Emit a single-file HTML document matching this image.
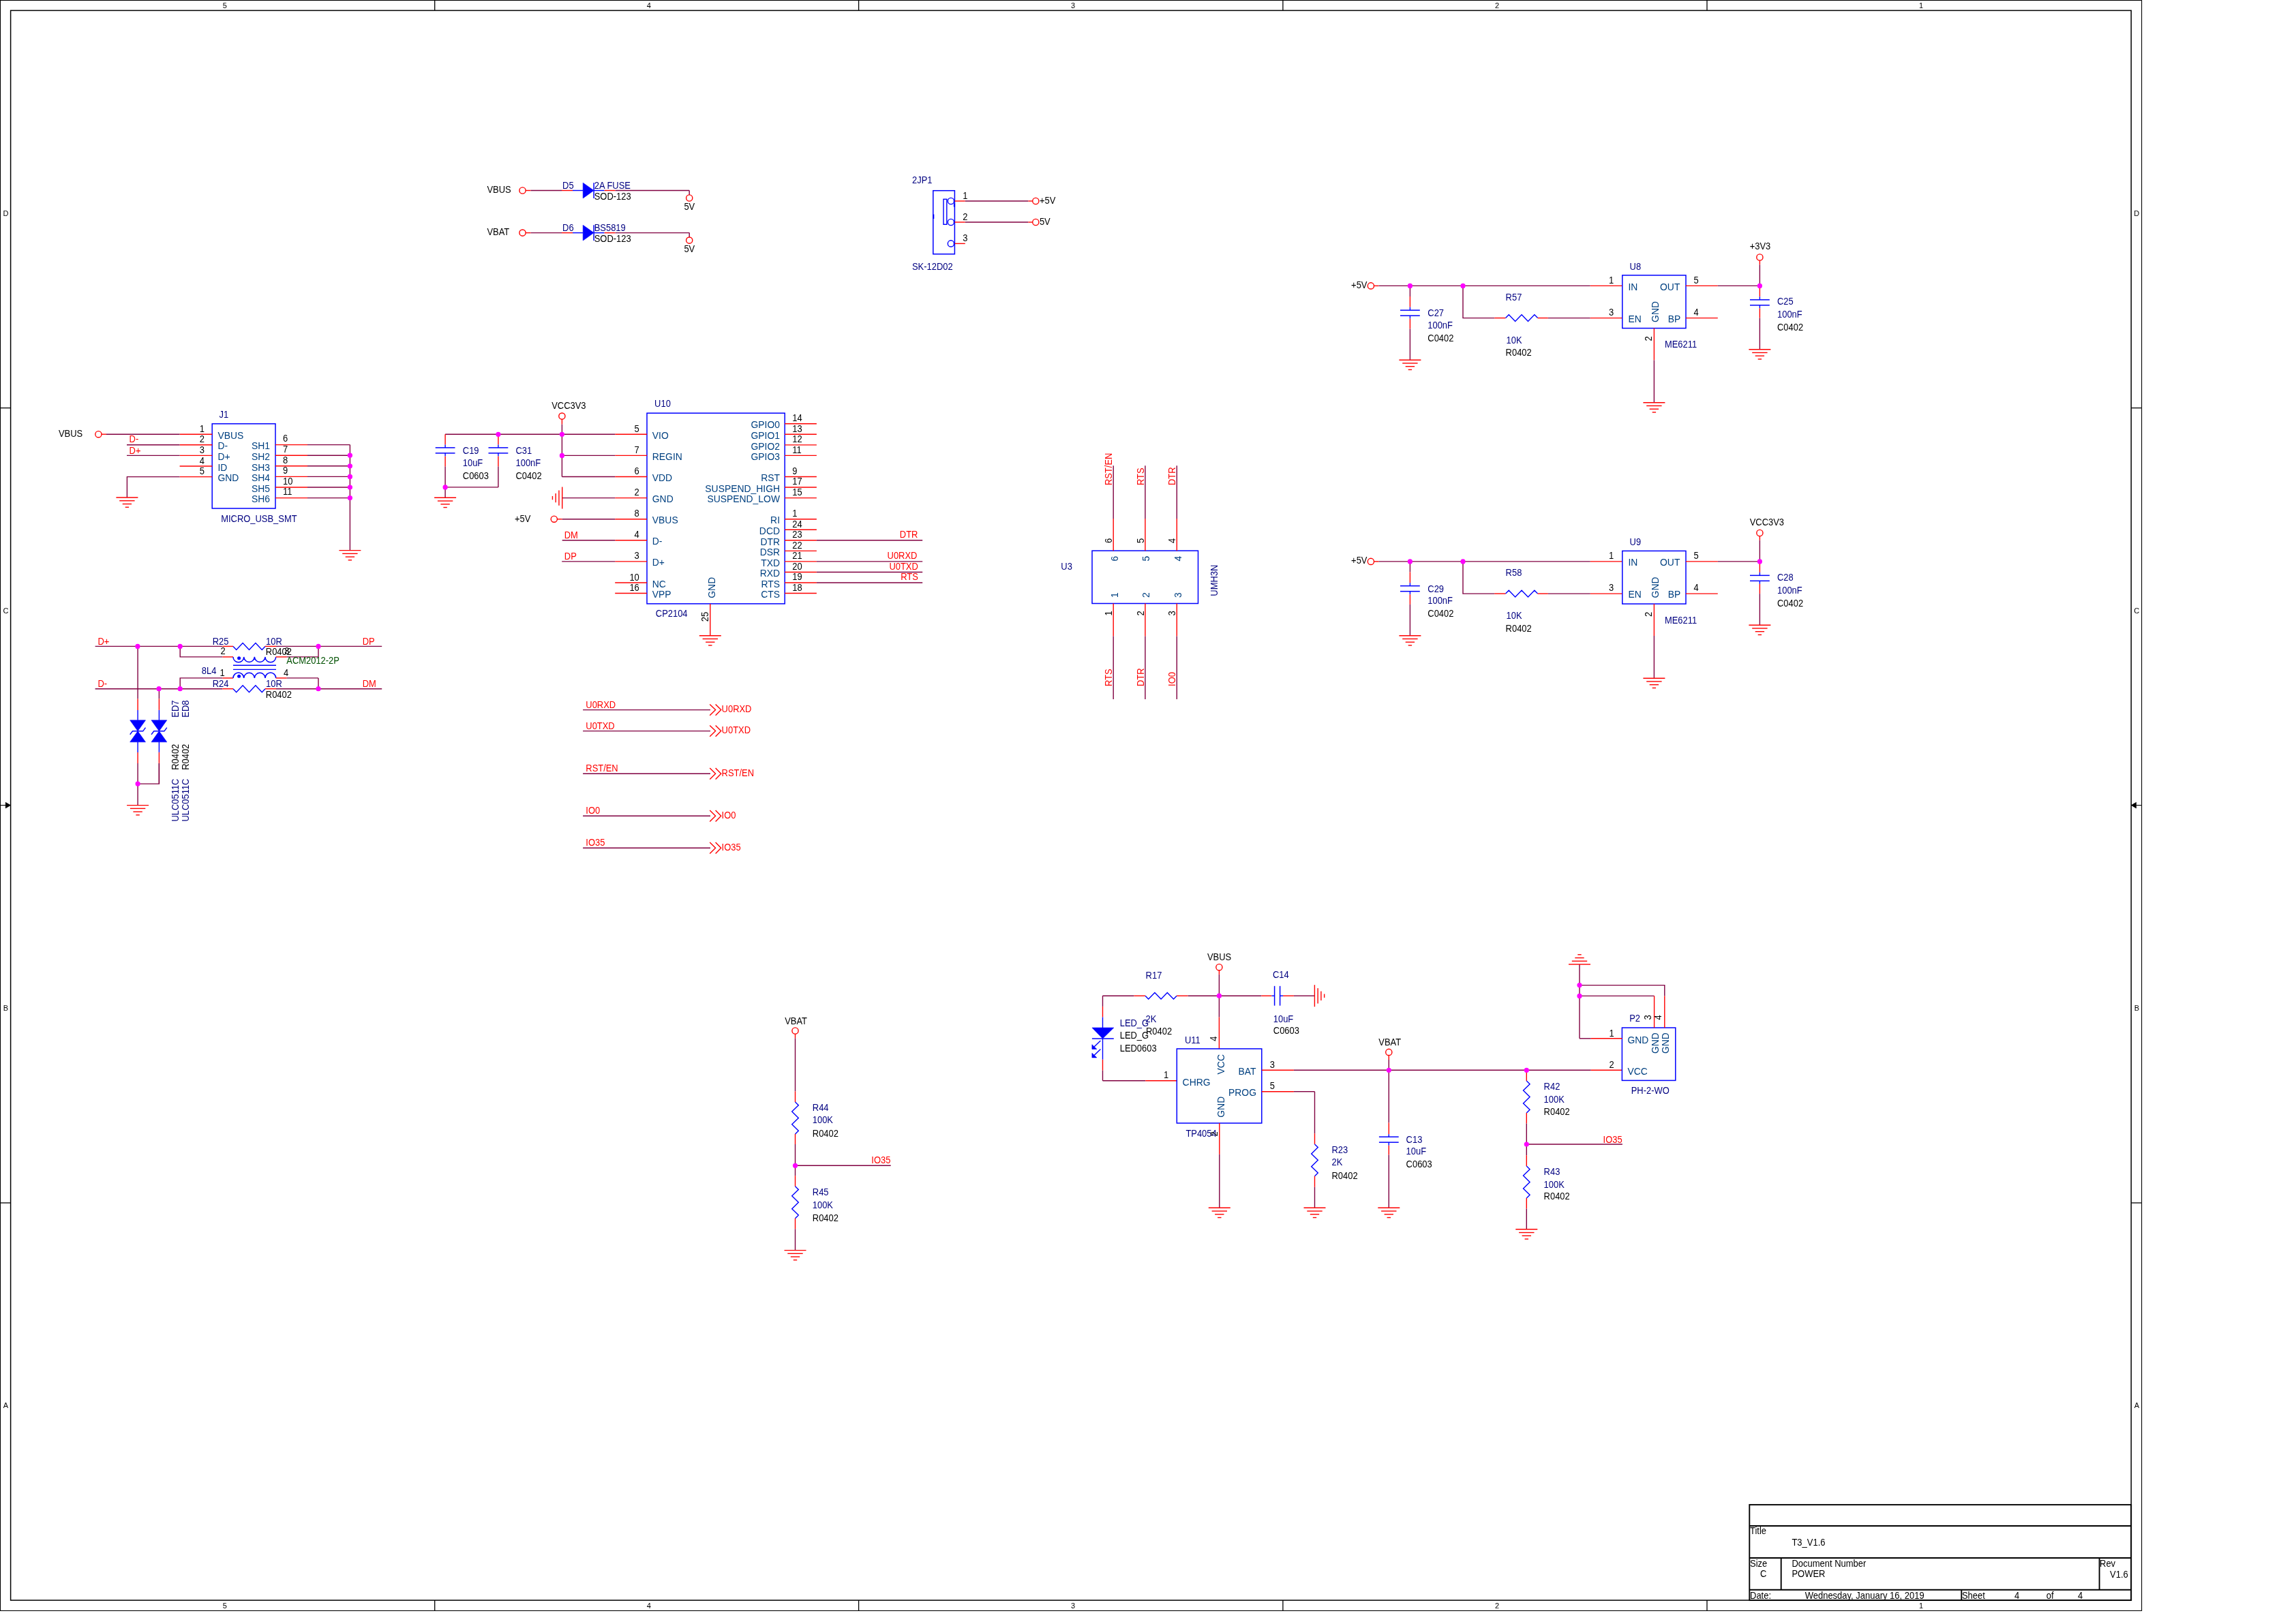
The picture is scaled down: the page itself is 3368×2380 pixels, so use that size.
<!DOCTYPE html>
<html><head><meta charset="utf-8"><title>POWER schematic</title>
<style>
html,body{margin:0;padding:0;background:#fff;width:3368px;height:2380px;overflow:hidden}
svg{display:block;will-change:transform}
text{font-family:"Liberation Sans",sans-serif}
</style></head><body>
<svg width="3368" height="2380" viewBox="0 0 3368 2380">
<rect x="0" y="0" width="3368" height="2380" fill="#fff"/>
<rect x="0.5" y="0.5" width="3141.1" height="2362.9" stroke="#000000" stroke-width="1.1" fill="none"/>
<rect x="15.6" y="15.4" width="3110.6" height="2332.7" stroke="#000000" stroke-width="1.5" fill="none"/>
<line x1="637.7" y1="0.5" x2="637.7" y2="15.4" stroke="#000000" stroke-width="1.3"/>
<line x1="637.7" y1="2348.1" x2="637.7" y2="2363.4" stroke="#000000" stroke-width="1.3"/>
<line x1="1259.6" y1="0.5" x2="1259.6" y2="15.4" stroke="#000000" stroke-width="1.3"/>
<line x1="1259.6" y1="2348.1" x2="1259.6" y2="2363.4" stroke="#000000" stroke-width="1.3"/>
<line x1="1881.9" y1="0.5" x2="1881.9" y2="15.4" stroke="#000000" stroke-width="1.3"/>
<line x1="1881.9" y1="2348.1" x2="1881.9" y2="2363.4" stroke="#000000" stroke-width="1.3"/>
<line x1="2504" y1="0.5" x2="2504" y2="15.4" stroke="#000000" stroke-width="1.3"/>
<line x1="2504" y1="2348.1" x2="2504" y2="2363.4" stroke="#000000" stroke-width="1.3"/>
<line x1="0.5" y1="598.6" x2="15.6" y2="598.6" stroke="#000000" stroke-width="1.3"/>
<line x1="3126.2" y1="598.6" x2="3141.6" y2="598.6" stroke="#000000" stroke-width="1.3"/>
<line x1="0.5" y1="1765" x2="15.6" y2="1765" stroke="#000000" stroke-width="1.3"/>
<line x1="3126.2" y1="1765" x2="3141.6" y2="1765" stroke="#000000" stroke-width="1.3"/>
<line x1="0.5" y1="1181.6" x2="9" y2="1181.6" stroke="#000000" stroke-width="1.1"/>
<polygon points="8.2,1177.3 8.2,1185.9 15.6,1181.6" fill="#000000" stroke="#000000" stroke-width="0.6"/>
<line x1="3133.5" y1="1181.6" x2="3141.6" y2="1181.6" stroke="#000000" stroke-width="1.1"/>
<polygon points="3133.6,1177.3 3133.6,1185.9 3126.2,1181.6" fill="#000000" stroke="#000000" stroke-width="0.6"/>
<text transform="translate(329.75,12.2)" fill="#000000" font-size="11" text-anchor="middle">5</text>
<text transform="translate(329.75,2359.9)" fill="#000000" font-size="11" text-anchor="middle">5</text>
<text transform="translate(951.85,12.2)" fill="#000000" font-size="11" text-anchor="middle">4</text>
<text transform="translate(951.85,2359.9)" fill="#000000" font-size="11" text-anchor="middle">4</text>
<text transform="translate(1573.95,12.2)" fill="#000000" font-size="11" text-anchor="middle">3</text>
<text transform="translate(1573.95,2359.9)" fill="#000000" font-size="11" text-anchor="middle">3</text>
<text transform="translate(2196.05,12.2)" fill="#000000" font-size="11" text-anchor="middle">2</text>
<text transform="translate(2196.05,2359.9)" fill="#000000" font-size="11" text-anchor="middle">2</text>
<text transform="translate(2818.15,12.2)" fill="#000000" font-size="11" text-anchor="middle">1</text>
<text transform="translate(2818.15,2359.9)" fill="#000000" font-size="11" text-anchor="middle">1</text>
<text transform="translate(8.4,316.85)" fill="#000000" font-size="11" text-anchor="middle">D</text>
<text transform="translate(3134.3,316.85)" fill="#000000" font-size="11" text-anchor="middle">D</text>
<text transform="translate(8.4,899.95)" fill="#000000" font-size="11" text-anchor="middle">C</text>
<text transform="translate(3134.3,899.95)" fill="#000000" font-size="11" text-anchor="middle">C</text>
<text transform="translate(8.4,1483.05)" fill="#000000" font-size="11" text-anchor="middle">B</text>
<text transform="translate(3134.3,1483.05)" fill="#000000" font-size="11" text-anchor="middle">B</text>
<text transform="translate(8.4,2066.15)" fill="#000000" font-size="11" text-anchor="middle">A</text>
<text transform="translate(3134.3,2066.15)" fill="#000000" font-size="11" text-anchor="middle">A</text>
<rect x="2566.3" y="2207.9" width="559.9" height="140.2" stroke="#000000" stroke-width="1.9" fill="none"/>
<line x1="2566.3" y1="2239" x2="3126.2" y2="2239" stroke="#000000" stroke-width="1.9"/>
<line x1="2566.3" y1="2286" x2="3126.2" y2="2286" stroke="#000000" stroke-width="1.9"/>
<line x1="2566.3" y1="2332.7" x2="3126.2" y2="2332.7" stroke="#000000" stroke-width="1.9"/>
<line x1="2612.7" y1="2286" x2="2612.7" y2="2332.7" stroke="#000000" stroke-width="1.9"/>
<line x1="3079.6" y1="2286" x2="3079.6" y2="2332.7" stroke="#000000" stroke-width="1.9"/>
<line x1="2877.3" y1="2332.7" x2="2877.3" y2="2348.1" stroke="#000000" stroke-width="1.9"/>
<text transform="translate(2567,2251.4) scale(0.9220,1)" fill="#000000" font-size="14.1">Title</text>
<text transform="translate(2628.4,2267.7) scale(0.9220,1)" fill="#000000" font-size="14.1">T3_V1.6</text>
<text transform="translate(2567,2298.5) scale(0.9220,1)" fill="#000000" font-size="14.1">Size</text>
<text transform="translate(2582,2314.4) scale(0.9220,1)" fill="#000000" font-size="14.1">C</text>
<text transform="translate(2628.4,2298.5) scale(0.9220,1)" fill="#000000" font-size="14.1">Document Number</text>
<text transform="translate(2628.4,2314.4) scale(0.9220,1)" fill="#000000" font-size="14.1">POWER</text>
<text transform="translate(3080,2298.6) scale(0.9220,1)" fill="#000000" font-size="14.1">Rev</text>
<text transform="translate(3121.8,2315) scale(0.9220,1)" fill="#000000" font-size="14.1" text-anchor="end">V1.6</text>
<text transform="translate(2567,2345.5) scale(0.9220,1)" fill="#000000" font-size="14.1">Date:</text>
<text transform="translate(2647.7,2345.5) scale(0.9220,1)" fill="#000000" font-size="14.1">Wednesday, January 16, 2019</text>
<text transform="translate(2877.9,2345.9) scale(0.9220,1)" fill="#000000" font-size="14.1">Sheet</text>
<text transform="translate(2954.9,2345.9) scale(0.9220,1)" fill="#000000" font-size="14.1">4</text>
<text transform="translate(3001.8,2345.9) scale(0.9220,1)" fill="#000000" font-size="14.1">of</text>
<text transform="translate(3048.1,2345.9) scale(0.9220,1)" fill="#000000" font-size="14.1">4</text>
<text transform="translate(714.4,282.6) scale(0.9184,1)" fill="#000000" font-size="14.1">VBUS</text>
<circle cx="766.5" cy="279.5" r="4.6" stroke="#ff0000" stroke-width="1.4" fill="none"/>
<line x1="771.1" y1="279.5" x2="778.6" y2="279.5" stroke="#ff0000" stroke-width="1.4"/>
<line x1="778.6" y1="279.5" x2="824" y2="279.5" stroke="#800040" stroke-width="1.4"/>
<line x1="824" y1="279.5" x2="840" y2="279.5" stroke="#ff0000" stroke-width="1.4"/>
<line x1="840" y1="279.5" x2="855.2" y2="279.5" stroke="#0000ff" stroke-width="1.4"/>
<polygon points="855.2,268.2 855.2,290.9 871.1,279.5" fill="#0000ff" stroke="#0000ff" stroke-width="0.6"/>
<line x1="871.1" y1="268.2" x2="871.1" y2="290.9" stroke="#0000ff" stroke-width="1.5"/>
<line x1="871.1" y1="279.5" x2="886.6" y2="279.5" stroke="#0000ff" stroke-width="1.4"/>
<line x1="886.6" y1="279.5" x2="902.6" y2="279.5" stroke="#ff0000" stroke-width="1.4"/>
<line x1="902.6" y1="279.5" x2="1011.2" y2="279.5" stroke="#800040" stroke-width="1.4"/>
<line x1="1011.2" y1="279.5" x2="1011.2" y2="285.9" stroke="#800040" stroke-width="1.4"/>
<circle cx="1011.2" cy="290.5" r="4.6" stroke="#ff0000" stroke-width="1.4" fill="none"/>
<text transform="translate(825.1,276.9) scale(0.9184,1)" fill="#000080" font-size="14.1">D5</text>
<text transform="translate(871.7,276.8) scale(0.9184,1)" fill="#000080" font-size="14.1">2A FUSE</text>
<text transform="translate(871.7,292.5) scale(0.9184,1)" fill="#000000" font-size="14.1">SOD-123</text>
<text transform="translate(1003.4,307.7) scale(0.9184,1)" fill="#000000" font-size="14.1">5V</text>
<text transform="translate(714.4,344.7) scale(0.9184,1)" fill="#000000" font-size="14.1">VBAT</text>
<circle cx="766.5" cy="341.6" r="4.6" stroke="#ff0000" stroke-width="1.4" fill="none"/>
<line x1="771.1" y1="341.6" x2="778.6" y2="341.6" stroke="#ff0000" stroke-width="1.4"/>
<line x1="778.6" y1="341.6" x2="824" y2="341.6" stroke="#800040" stroke-width="1.4"/>
<line x1="824" y1="341.6" x2="840" y2="341.6" stroke="#ff0000" stroke-width="1.4"/>
<line x1="840" y1="341.6" x2="855.2" y2="341.6" stroke="#0000ff" stroke-width="1.4"/>
<polygon points="855.2,330.3 855.2,353 871.1,341.6" fill="#0000ff" stroke="#0000ff" stroke-width="0.6"/>
<line x1="871.1" y1="330.3" x2="871.1" y2="353" stroke="#0000ff" stroke-width="1.5"/>
<line x1="871.1" y1="341.6" x2="886.6" y2="341.6" stroke="#0000ff" stroke-width="1.4"/>
<line x1="886.6" y1="341.6" x2="902.6" y2="341.6" stroke="#ff0000" stroke-width="1.4"/>
<line x1="902.6" y1="341.6" x2="1011.2" y2="341.6" stroke="#800040" stroke-width="1.4"/>
<line x1="1011.2" y1="341.6" x2="1011.2" y2="348" stroke="#800040" stroke-width="1.4"/>
<circle cx="1011.2" cy="352.6" r="4.6" stroke="#ff0000" stroke-width="1.4" fill="none"/>
<text transform="translate(825.1,339) scale(0.9184,1)" fill="#000080" font-size="14.1">D6</text>
<text transform="translate(871.7,338.9) scale(0.9184,1)" fill="#000080" font-size="14.1">BS5819</text>
<text transform="translate(871.7,354.6) scale(0.9184,1)" fill="#000000" font-size="14.1">SOD-123</text>
<text transform="translate(1003.4,369.8) scale(0.9184,1)" fill="#000000" font-size="14.1">5V</text>
<rect x="1368.8" y="279.7" width="31.6" height="93.1" stroke="#0000ff" stroke-width="1.5" fill="none"/>
<circle cx="1394.9" cy="295" r="4.6" stroke="#0000ff" stroke-width="1.4" fill="none"/>
<line x1="1400.4" y1="295" x2="1415.8" y2="295" stroke="#ff0000" stroke-width="1.4"/>
<circle cx="1394.9" cy="326" r="4.6" stroke="#0000ff" stroke-width="1.4" fill="none"/>
<line x1="1400.4" y1="326" x2="1415.8" y2="326" stroke="#ff0000" stroke-width="1.4"/>
<circle cx="1394.9" cy="357.4" r="4.6" stroke="#0000ff" stroke-width="1.4" fill="none"/>
<line x1="1400.4" y1="357.4" x2="1415.8" y2="357.4" stroke="#ff0000" stroke-width="1.4"/>
<rect x="1384" y="292.3" width="4.8" height="37" stroke="#0000ff" stroke-width="1.4" fill="none"/>
<line x1="1369.2" y1="314.5" x2="1369.2" y2="321" stroke="#0000ff" stroke-width="2.2"/>
<line x1="1400" y1="298.5" x2="1400" y2="303.5" stroke="#0000ff" stroke-width="2.2"/>
<line x1="1415.8" y1="295" x2="1508.4" y2="295" stroke="#800040" stroke-width="1.4"/>
<line x1="1508.4" y1="295" x2="1514.7" y2="295" stroke="#ff0000" stroke-width="1.4"/>
<circle cx="1519.3" cy="295" r="4.6" stroke="#ff0000" stroke-width="1.4" fill="none"/>
<text transform="translate(1524.9,298.6) scale(0.9184,1)" fill="#000000" font-size="14.1">+5V</text>
<line x1="1415.8" y1="326" x2="1508.4" y2="326" stroke="#800040" stroke-width="1.4"/>
<line x1="1508.4" y1="326" x2="1514.7" y2="326" stroke="#ff0000" stroke-width="1.4"/>
<circle cx="1519.3" cy="326" r="4.6" stroke="#ff0000" stroke-width="1.4" fill="none"/>
<text transform="translate(1524.9,329.6) scale(0.9184,1)" fill="#000000" font-size="14.1">5V</text>
<text transform="translate(1412.3,291.7) scale(0.9184,1)" fill="#000000" font-size="14.1">1</text>
<text transform="translate(1412.3,322.5) scale(0.9184,1)" fill="#000000" font-size="14.1">2</text>
<text transform="translate(1412.3,353.5) scale(0.9184,1)" fill="#000000" font-size="14.1">3</text>
<text transform="translate(1338,268.9) scale(0.9184,1)" fill="#000080" font-size="14.1">2JP1</text>
<text transform="translate(1338,395.7) scale(0.9184,1)" fill="#000080" font-size="14.1">SK-12D02</text>
<rect x="311.2" y="621.8" width="92.8" height="124.2" stroke="#0000ff" stroke-width="1.5" fill="none"/>
<line x1="263.6" y1="637.2" x2="311.2" y2="637.2" stroke="#ff0000" stroke-width="1.4"/>
<text transform="translate(300,633.7) scale(0.9184,1)" fill="#000000" font-size="14.1" text-anchor="end">1</text>
<line x1="263.6" y1="652.8" x2="311.2" y2="652.8" stroke="#ff0000" stroke-width="1.4"/>
<text transform="translate(300,649.3) scale(0.9184,1)" fill="#000000" font-size="14.1" text-anchor="end">2</text>
<line x1="263.6" y1="668.4" x2="311.2" y2="668.4" stroke="#ff0000" stroke-width="1.4"/>
<text transform="translate(300,664.9) scale(0.9184,1)" fill="#000000" font-size="14.1" text-anchor="end">3</text>
<line x1="263.6" y1="684" x2="311.2" y2="684" stroke="#ff0000" stroke-width="1.4"/>
<text transform="translate(300,680.5) scale(0.9184,1)" fill="#000000" font-size="14.1" text-anchor="end">4</text>
<line x1="263.6" y1="699.6" x2="311.2" y2="699.6" stroke="#ff0000" stroke-width="1.4"/>
<text transform="translate(300,696.1) scale(0.9184,1)" fill="#000000" font-size="14.1" text-anchor="end">5</text>
<text transform="translate(319.4,643.7) scale(0.9858,1)" fill="#004080" font-size="14.1">VBUS</text>
<text transform="translate(319.4,659.3) scale(0.9858,1)" fill="#004080" font-size="14.1">D-</text>
<text transform="translate(319.4,674.9) scale(0.9858,1)" fill="#004080" font-size="14.1">D+</text>
<text transform="translate(319.4,690.5) scale(0.9858,1)" fill="#004080" font-size="14.1">ID</text>
<text transform="translate(319.4,706.1) scale(0.9858,1)" fill="#004080" font-size="14.1">GND</text>
<line x1="404" y1="652.6" x2="451" y2="652.6" stroke="#ff0000" stroke-width="1.4"/>
<line x1="451" y1="652.6" x2="513.4" y2="652.6" stroke="#800040" stroke-width="1.4"/>
<text transform="translate(396,659.4) scale(0.9858,1)" fill="#004080" font-size="14.1" text-anchor="end">SH1</text>
<text transform="translate(415,648.4) scale(0.9184,1)" fill="#000000" font-size="14.1">6</text>
<line x1="404" y1="668.2" x2="451" y2="668.2" stroke="#ff0000" stroke-width="1.4"/>
<line x1="451" y1="668.2" x2="513.4" y2="668.2" stroke="#800040" stroke-width="1.4"/>
<text transform="translate(396,675) scale(0.9858,1)" fill="#004080" font-size="14.1" text-anchor="end">SH2</text>
<text transform="translate(415,664) scale(0.9184,1)" fill="#000000" font-size="14.1">7</text>
<line x1="404" y1="683.8" x2="451" y2="683.8" stroke="#ff0000" stroke-width="1.4"/>
<line x1="451" y1="683.8" x2="513.4" y2="683.8" stroke="#800040" stroke-width="1.4"/>
<text transform="translate(396,690.6) scale(0.9858,1)" fill="#004080" font-size="14.1" text-anchor="end">SH3</text>
<text transform="translate(415,679.6) scale(0.9184,1)" fill="#000000" font-size="14.1">8</text>
<line x1="404" y1="699.4" x2="451" y2="699.4" stroke="#ff0000" stroke-width="1.4"/>
<line x1="451" y1="699.4" x2="513.4" y2="699.4" stroke="#800040" stroke-width="1.4"/>
<text transform="translate(396,706.2) scale(0.9858,1)" fill="#004080" font-size="14.1" text-anchor="end">SH4</text>
<text transform="translate(415,695.2) scale(0.9184,1)" fill="#000000" font-size="14.1">9</text>
<line x1="404" y1="715" x2="451" y2="715" stroke="#ff0000" stroke-width="1.4"/>
<line x1="451" y1="715" x2="513.4" y2="715" stroke="#800040" stroke-width="1.4"/>
<text transform="translate(396,721.8) scale(0.9858,1)" fill="#004080" font-size="14.1" text-anchor="end">SH5</text>
<text transform="translate(415,710.8) scale(0.9184,1)" fill="#000000" font-size="14.1">10</text>
<line x1="404" y1="730.6" x2="451" y2="730.6" stroke="#ff0000" stroke-width="1.4"/>
<line x1="451" y1="730.6" x2="513.4" y2="730.6" stroke="#800040" stroke-width="1.4"/>
<text transform="translate(396,737.4) scale(0.9858,1)" fill="#004080" font-size="14.1" text-anchor="end">SH6</text>
<text transform="translate(415,726.4) scale(0.9184,1)" fill="#000000" font-size="14.1">11</text>
<line x1="513.4" y1="652.6" x2="513.4" y2="807.6" stroke="#800040" stroke-width="1.4"/>
<line x1="497.4" y1="807.6" x2="529.4" y2="807.6" stroke="#ff0000" stroke-width="1.4"/>
<line x1="502.2" y1="812.35" x2="524.6" y2="812.35" stroke="#ff0000" stroke-width="1.4"/>
<line x1="506.7" y1="817.1" x2="520.1" y2="817.1" stroke="#ff0000" stroke-width="1.4"/>
<line x1="510.7" y1="821.85" x2="516.1" y2="821.85" stroke="#ff0000" stroke-width="1.4"/>
<circle cx="144.4" cy="637.2" r="4.6" stroke="#ff0000" stroke-width="1.4" fill="none"/>
<line x1="149" y1="637.2" x2="156" y2="637.2" stroke="#ff0000" stroke-width="1.4"/>
<line x1="156" y1="637.2" x2="263.6" y2="637.2" stroke="#800040" stroke-width="1.4"/>
<text transform="translate(86,640.6) scale(0.9184,1)" fill="#000000" font-size="14.1">VBUS</text>
<line x1="186" y1="652.8" x2="263.6" y2="652.8" stroke="#800040" stroke-width="1.4"/>
<text transform="translate(189.6,649.4) scale(0.9184,1)" fill="#ff0000" font-size="14.1">D-</text>
<line x1="186" y1="668.4" x2="263.6" y2="668.4" stroke="#800040" stroke-width="1.4"/>
<text transform="translate(189.6,665.6) scale(0.9184,1)" fill="#ff0000" font-size="14.1">D+</text>
<polyline points="263.6,699.6 186.4,699.6 186.4,730" stroke="#800040" stroke-width="1.4" fill="none"/>
<line x1="170.4" y1="730" x2="202.4" y2="730" stroke="#ff0000" stroke-width="1.4"/>
<line x1="175.2" y1="734.75" x2="197.6" y2="734.75" stroke="#ff0000" stroke-width="1.4"/>
<line x1="179.7" y1="739.5" x2="193.1" y2="739.5" stroke="#ff0000" stroke-width="1.4"/>
<line x1="183.7" y1="744.25" x2="189.1" y2="744.25" stroke="#ff0000" stroke-width="1.4"/>
<text transform="translate(321.6,612.8) scale(0.9184,1)" fill="#000080" font-size="14.1">J1</text>
<text transform="translate(324.2,766.1) scale(0.9184,1)" fill="#000080" font-size="14.1">MICRO_USB_SMT</text>
<rect x="949" y="606.2" width="202.2" height="279.7" stroke="#0000ff" stroke-width="1.5" fill="none"/>
<line x1="902.2" y1="637.3" x2="949" y2="637.3" stroke="#ff0000" stroke-width="1.4"/>
<text transform="translate(956.8,643.8) scale(0.9858,1)" fill="#004080" font-size="14.1">VIO</text>
<text transform="translate(937.8,633.8) scale(0.9184,1)" fill="#000000" font-size="14.1" text-anchor="end">5</text>
<line x1="902.2" y1="668.4" x2="949" y2="668.4" stroke="#ff0000" stroke-width="1.4"/>
<text transform="translate(956.8,674.9) scale(0.9858,1)" fill="#004080" font-size="14.1">REGIN</text>
<text transform="translate(937.8,664.9) scale(0.9184,1)" fill="#000000" font-size="14.1" text-anchor="end">7</text>
<line x1="902.2" y1="699.5" x2="949" y2="699.5" stroke="#ff0000" stroke-width="1.4"/>
<text transform="translate(956.8,706) scale(0.9858,1)" fill="#004080" font-size="14.1">VDD</text>
<text transform="translate(937.8,696) scale(0.9184,1)" fill="#000000" font-size="14.1" text-anchor="end">6</text>
<line x1="902.2" y1="730.6" x2="949" y2="730.6" stroke="#ff0000" stroke-width="1.4"/>
<text transform="translate(956.8,737.1) scale(0.9858,1)" fill="#004080" font-size="14.1">GND</text>
<text transform="translate(937.8,727.1) scale(0.9184,1)" fill="#000000" font-size="14.1" text-anchor="end">2</text>
<line x1="902.2" y1="761.7" x2="949" y2="761.7" stroke="#ff0000" stroke-width="1.4"/>
<text transform="translate(956.8,768.2) scale(0.9858,1)" fill="#004080" font-size="14.1">VBUS</text>
<text transform="translate(937.8,758.2) scale(0.9184,1)" fill="#000000" font-size="14.1" text-anchor="end">8</text>
<line x1="902.2" y1="792.8" x2="949" y2="792.8" stroke="#ff0000" stroke-width="1.4"/>
<text transform="translate(956.8,799.3) scale(0.9858,1)" fill="#004080" font-size="14.1">D-</text>
<text transform="translate(937.8,789.3) scale(0.9184,1)" fill="#000000" font-size="14.1" text-anchor="end">4</text>
<line x1="902.2" y1="823.9" x2="949" y2="823.9" stroke="#ff0000" stroke-width="1.4"/>
<text transform="translate(956.8,830.4) scale(0.9858,1)" fill="#004080" font-size="14.1">D+</text>
<text transform="translate(937.8,820.4) scale(0.9184,1)" fill="#000000" font-size="14.1" text-anchor="end">3</text>
<line x1="902.2" y1="855" x2="949" y2="855" stroke="#ff0000" stroke-width="1.4"/>
<text transform="translate(956.8,861.5) scale(0.9858,1)" fill="#004080" font-size="14.1">NC</text>
<text transform="translate(937.8,851.5) scale(0.9184,1)" fill="#000000" font-size="14.1" text-anchor="end">10</text>
<line x1="902.2" y1="870.55" x2="949" y2="870.55" stroke="#ff0000" stroke-width="1.4"/>
<text transform="translate(956.8,877.05) scale(0.9858,1)" fill="#004080" font-size="14.1">VPP</text>
<text transform="translate(937.8,867.05) scale(0.9184,1)" fill="#000000" font-size="14.1" text-anchor="end">16</text>
<line x1="1151.2" y1="621.75" x2="1197.9" y2="621.75" stroke="#ff0000" stroke-width="1.4"/>
<text transform="translate(1144,628.45) scale(0.9858,1)" fill="#004080" font-size="14.1" text-anchor="end">GPIO0</text>
<text transform="translate(1162.2,618.05) scale(0.9184,1)" fill="#000000" font-size="14.1">14</text>
<line x1="1151.2" y1="637.3" x2="1197.9" y2="637.3" stroke="#ff0000" stroke-width="1.4"/>
<text transform="translate(1144,644) scale(0.9858,1)" fill="#004080" font-size="14.1" text-anchor="end">GPIO1</text>
<text transform="translate(1162.2,633.6) scale(0.9184,1)" fill="#000000" font-size="14.1">13</text>
<line x1="1151.2" y1="652.85" x2="1197.9" y2="652.85" stroke="#ff0000" stroke-width="1.4"/>
<text transform="translate(1144,659.55) scale(0.9858,1)" fill="#004080" font-size="14.1" text-anchor="end">GPIO2</text>
<text transform="translate(1162.2,649.15) scale(0.9184,1)" fill="#000000" font-size="14.1">12</text>
<line x1="1151.2" y1="668.4" x2="1197.9" y2="668.4" stroke="#ff0000" stroke-width="1.4"/>
<text transform="translate(1144,675.1) scale(0.9858,1)" fill="#004080" font-size="14.1" text-anchor="end">GPIO3</text>
<text transform="translate(1162.2,664.7) scale(0.9184,1)" fill="#000000" font-size="14.1">11</text>
<line x1="1151.2" y1="699.5" x2="1197.9" y2="699.5" stroke="#ff0000" stroke-width="1.4"/>
<text transform="translate(1144,706.2) scale(0.9858,1)" fill="#004080" font-size="14.1" text-anchor="end">RST</text>
<text transform="translate(1162.2,695.8) scale(0.9184,1)" fill="#000000" font-size="14.1">9</text>
<line x1="1151.2" y1="715.05" x2="1197.9" y2="715.05" stroke="#ff0000" stroke-width="1.4"/>
<text transform="translate(1144,721.75) scale(0.9858,1)" fill="#004080" font-size="14.1" text-anchor="end">SUSPEND_HIGH</text>
<text transform="translate(1162.2,711.35) scale(0.9184,1)" fill="#000000" font-size="14.1">17</text>
<line x1="1151.2" y1="730.6" x2="1197.9" y2="730.6" stroke="#ff0000" stroke-width="1.4"/>
<text transform="translate(1144,737.3) scale(0.9858,1)" fill="#004080" font-size="14.1" text-anchor="end">SUSPEND_LOW</text>
<text transform="translate(1162.2,726.9) scale(0.9184,1)" fill="#000000" font-size="14.1">15</text>
<line x1="1151.2" y1="761.7" x2="1197.9" y2="761.7" stroke="#ff0000" stroke-width="1.4"/>
<text transform="translate(1144,768.4) scale(0.9858,1)" fill="#004080" font-size="14.1" text-anchor="end">RI</text>
<text transform="translate(1162.2,758) scale(0.9184,1)" fill="#000000" font-size="14.1">1</text>
<line x1="1151.2" y1="777.25" x2="1197.9" y2="777.25" stroke="#ff0000" stroke-width="1.4"/>
<text transform="translate(1144,783.95) scale(0.9858,1)" fill="#004080" font-size="14.1" text-anchor="end">DCD</text>
<text transform="translate(1162.2,773.55) scale(0.9184,1)" fill="#000000" font-size="14.1">24</text>
<line x1="1151.2" y1="792.8" x2="1197.9" y2="792.8" stroke="#ff0000" stroke-width="1.4"/>
<text transform="translate(1144,799.5) scale(0.9858,1)" fill="#004080" font-size="14.1" text-anchor="end">DTR</text>
<text transform="translate(1162.2,789.1) scale(0.9184,1)" fill="#000000" font-size="14.1">23</text>
<line x1="1151.2" y1="808.35" x2="1197.9" y2="808.35" stroke="#ff0000" stroke-width="1.4"/>
<text transform="translate(1144,815.05) scale(0.9858,1)" fill="#004080" font-size="14.1" text-anchor="end">DSR</text>
<text transform="translate(1162.2,804.65) scale(0.9184,1)" fill="#000000" font-size="14.1">22</text>
<line x1="1151.2" y1="823.9" x2="1197.9" y2="823.9" stroke="#ff0000" stroke-width="1.4"/>
<text transform="translate(1144,830.6) scale(0.9858,1)" fill="#004080" font-size="14.1" text-anchor="end">TXD</text>
<text transform="translate(1162.2,820.2) scale(0.9184,1)" fill="#000000" font-size="14.1">21</text>
<line x1="1151.2" y1="839.45" x2="1197.9" y2="839.45" stroke="#ff0000" stroke-width="1.4"/>
<text transform="translate(1144,846.15) scale(0.9858,1)" fill="#004080" font-size="14.1" text-anchor="end">RXD</text>
<text transform="translate(1162.2,835.75) scale(0.9184,1)" fill="#000000" font-size="14.1">20</text>
<line x1="1151.2" y1="855" x2="1197.9" y2="855" stroke="#ff0000" stroke-width="1.4"/>
<text transform="translate(1144,861.7) scale(0.9858,1)" fill="#004080" font-size="14.1" text-anchor="end">RTS</text>
<text transform="translate(1162.2,851.3) scale(0.9184,1)" fill="#000000" font-size="14.1">19</text>
<line x1="1151.2" y1="870.55" x2="1197.9" y2="870.55" stroke="#ff0000" stroke-width="1.4"/>
<text transform="translate(1144,877.25) scale(0.9858,1)" fill="#004080" font-size="14.1" text-anchor="end">CTS</text>
<text transform="translate(1162.2,866.85) scale(0.9184,1)" fill="#000000" font-size="14.1">18</text>
<line x1="1041.8" y1="885.9" x2="1041.8" y2="932.7" stroke="#ff0000" stroke-width="1.4"/>
<line x1="1025.8" y1="932.7" x2="1057.8" y2="932.7" stroke="#ff0000" stroke-width="1.4"/>
<line x1="1030.6" y1="937.45" x2="1053" y2="937.45" stroke="#ff0000" stroke-width="1.4"/>
<line x1="1035.1" y1="942.2" x2="1048.5" y2="942.2" stroke="#ff0000" stroke-width="1.4"/>
<line x1="1039.1" y1="946.95" x2="1044.5" y2="946.95" stroke="#ff0000" stroke-width="1.4"/>
<text transform="translate(1049.3,877.7) rotate(-90) scale(0.9858,1)" fill="#004080" font-size="14.1">GND</text>
<text transform="translate(1039.2,912.3) rotate(-90) scale(0.9184,1)" fill="#000000" font-size="14.1">25</text>
<text transform="translate(960.1,597.4) scale(0.9184,1)" fill="#000080" font-size="14.1">U10</text>
<text transform="translate(961.8,904.8) scale(0.9184,1)" fill="#000080" font-size="14.1">CP2104</text>
<line x1="1197.9" y1="792.8" x2="1353.2" y2="792.8" stroke="#800040" stroke-width="1.4"/>
<text transform="translate(1346.4,788.9) scale(0.9184,1)" fill="#ff0000" font-size="14.1" text-anchor="end">DTR</text>
<line x1="1197.9" y1="823.9" x2="1353.2" y2="823.9" stroke="#800040" stroke-width="1.4"/>
<text transform="translate(1345.4,820.3) scale(0.9184,1)" fill="#ff0000" font-size="14.1" text-anchor="end">U0RXD</text>
<line x1="1197.9" y1="839.45" x2="1353.2" y2="839.45" stroke="#800040" stroke-width="1.4"/>
<text transform="translate(1346.8,836.05) scale(0.9184,1)" fill="#ff0000" font-size="14.1" text-anchor="end">U0TXD</text>
<line x1="1197.9" y1="855" x2="1353.2" y2="855" stroke="#800040" stroke-width="1.4"/>
<text transform="translate(1346.8,851.4) scale(0.9184,1)" fill="#ff0000" font-size="14.1" text-anchor="end">RTS</text>
<circle cx="824.4" cy="610.6" r="4.6" stroke="#ff0000" stroke-width="1.4" fill="none"/>
<line x1="824.4" y1="615.2" x2="824.4" y2="622.7" stroke="#ff0000" stroke-width="1.4"/>
<line x1="824.4" y1="622.7" x2="824.4" y2="699.5" stroke="#800040" stroke-width="1.4"/>
<line x1="824.4" y1="699.5" x2="902.2" y2="699.5" stroke="#800040" stroke-width="1.4"/>
<line x1="653.1" y1="637.3" x2="902.2" y2="637.3" stroke="#800040" stroke-width="1.4"/>
<line x1="824.4" y1="668.4" x2="902.2" y2="668.4" stroke="#800040" stroke-width="1.4"/>
<text transform="translate(809.2,599.9) scale(0.9184,1)" fill="#000000" font-size="14.1">VCC3V3</text>
<line x1="653.1" y1="637.3" x2="653.1" y2="652.4" stroke="#ff0000" stroke-width="1.4"/>
<line x1="653.1" y1="652.4" x2="653.1" y2="656.9" stroke="#0000ff" stroke-width="1.4"/>
<line x1="653.1" y1="664.9" x2="653.1" y2="669.4" stroke="#0000ff" stroke-width="1.4"/>
<line x1="653.1" y1="669.4" x2="653.1" y2="684.5" stroke="#ff0000" stroke-width="1.4"/>
<line x1="653.1" y1="684.5" x2="653.1" y2="714.9" stroke="#800040" stroke-width="1.4"/>
<line x1="638.7" y1="656.9" x2="667.5" y2="656.9" stroke="#0000ff" stroke-width="1.5"/>
<line x1="638.7" y1="664.9" x2="667.5" y2="664.9" stroke="#0000ff" stroke-width="1.5"/>
<line x1="730.9" y1="637.3" x2="730.9" y2="652.4" stroke="#ff0000" stroke-width="1.4"/>
<line x1="730.9" y1="652.4" x2="730.9" y2="656.9" stroke="#0000ff" stroke-width="1.4"/>
<line x1="730.9" y1="664.9" x2="730.9" y2="669.4" stroke="#0000ff" stroke-width="1.4"/>
<line x1="730.9" y1="669.4" x2="730.9" y2="684.5" stroke="#ff0000" stroke-width="1.4"/>
<line x1="730.9" y1="684.5" x2="730.9" y2="714.9" stroke="#800040" stroke-width="1.4"/>
<line x1="716.5" y1="656.9" x2="745.3" y2="656.9" stroke="#0000ff" stroke-width="1.5"/>
<line x1="716.5" y1="664.9" x2="745.3" y2="664.9" stroke="#0000ff" stroke-width="1.5"/>
<line x1="653.1" y1="714.9" x2="730.9" y2="714.9" stroke="#800040" stroke-width="1.4"/>
<line x1="653.1" y1="714.9" x2="653.1" y2="730.3" stroke="#800040" stroke-width="1.4"/>
<line x1="637.1" y1="730.3" x2="669.1" y2="730.3" stroke="#ff0000" stroke-width="1.4"/>
<line x1="641.9" y1="735.05" x2="664.3" y2="735.05" stroke="#ff0000" stroke-width="1.4"/>
<line x1="646.4" y1="739.8" x2="659.8" y2="739.8" stroke="#ff0000" stroke-width="1.4"/>
<line x1="650.4" y1="744.55" x2="655.8" y2="744.55" stroke="#ff0000" stroke-width="1.4"/>
<text transform="translate(678.8,665.7) scale(0.9184,1)" fill="#000080" font-size="14.1">C19</text>
<text transform="translate(678.8,683.8) scale(0.9184,1)" fill="#000080" font-size="14.1">10uF</text>
<text transform="translate(678.8,702.8) scale(0.9184,1)" fill="#000000" font-size="14.1">C0603</text>
<text transform="translate(756.5,665.7) scale(0.9184,1)" fill="#000080" font-size="14.1">C31</text>
<text transform="translate(756.5,683.8) scale(0.9184,1)" fill="#000080" font-size="14.1">100nF</text>
<text transform="translate(756.5,702.8) scale(0.9184,1)" fill="#000000" font-size="14.1">C0402</text>
<line x1="824.7" y1="730.6" x2="902.2" y2="730.6" stroke="#800040" stroke-width="1.4"/>
<line x1="824.7" y1="714.6" x2="824.7" y2="746.6" stroke="#ff0000" stroke-width="1.4"/>
<line x1="819.95" y1="719.4" x2="819.95" y2="741.8" stroke="#ff0000" stroke-width="1.4"/>
<line x1="815.2" y1="723.9" x2="815.2" y2="737.3" stroke="#ff0000" stroke-width="1.4"/>
<line x1="810.45" y1="727.9" x2="810.45" y2="733.3" stroke="#ff0000" stroke-width="1.4"/>
<circle cx="812.8" cy="761.7" r="4.6" stroke="#ff0000" stroke-width="1.4" fill="none"/>
<line x1="817.4" y1="761.7" x2="824.7" y2="761.7" stroke="#ff0000" stroke-width="1.4"/>
<line x1="824.7" y1="761.7" x2="902.2" y2="761.7" stroke="#800040" stroke-width="1.4"/>
<text transform="translate(754.9,765.7) scale(0.9184,1)" fill="#000000" font-size="14.1">+5V</text>
<line x1="824.7" y1="792.8" x2="902.2" y2="792.8" stroke="#800040" stroke-width="1.4"/>
<text transform="translate(827.7,789.9) scale(0.9184,1)" fill="#ff0000" font-size="14.1">DM</text>
<line x1="824.2" y1="823.9" x2="902.2" y2="823.9" stroke="#800040" stroke-width="1.4"/>
<text transform="translate(827.8,820.5) scale(0.9184,1)" fill="#ff0000" font-size="14.1">DP</text>
<line x1="855.1" y1="1041.6" x2="1042" y2="1041.6" stroke="#800040" stroke-width="1.4"/>
<polyline points="1041.2,1033.4 1049.6,1041.6 1041.2,1049.8" stroke="#ff0000" stroke-width="1.4" fill="none"/>
<polyline points="1049.6,1033.4 1057.7,1041.6 1049.6,1049.8" stroke="#ff0000" stroke-width="1.4" fill="none"/>
<text transform="translate(859.3,1038.5) scale(0.9184,1)" fill="#ff0000" font-size="14.1">U0RXD</text>
<text transform="translate(1058.6,1045.1) scale(0.9184,1)" fill="#ff0000" font-size="14.1">U0RXD</text>
<line x1="855.1" y1="1072.6" x2="1042" y2="1072.6" stroke="#800040" stroke-width="1.4"/>
<polyline points="1041.2,1064.4 1049.6,1072.6 1041.2,1080.8" stroke="#ff0000" stroke-width="1.4" fill="none"/>
<polyline points="1049.6,1064.4 1057.7,1072.6 1049.6,1080.8" stroke="#ff0000" stroke-width="1.4" fill="none"/>
<text transform="translate(859.3,1069.5) scale(0.9184,1)" fill="#ff0000" font-size="14.1">U0TXD</text>
<text transform="translate(1058.6,1076.1) scale(0.9184,1)" fill="#ff0000" font-size="14.1">U0TXD</text>
<line x1="855.1" y1="1135.2" x2="1042" y2="1135.2" stroke="#800040" stroke-width="1.4"/>
<polyline points="1041.2,1127 1049.6,1135.2 1041.2,1143.4" stroke="#ff0000" stroke-width="1.4" fill="none"/>
<polyline points="1049.6,1127 1057.7,1135.2 1049.6,1143.4" stroke="#ff0000" stroke-width="1.4" fill="none"/>
<text transform="translate(859.3,1132.1) scale(0.9184,1)" fill="#ff0000" font-size="14.1">RST/EN</text>
<text transform="translate(1058.6,1138.7) scale(0.9184,1)" fill="#ff0000" font-size="14.1">RST/EN</text>
<line x1="855.1" y1="1197.3" x2="1042" y2="1197.3" stroke="#800040" stroke-width="1.4"/>
<polyline points="1041.2,1189.1 1049.6,1197.3 1041.2,1205.5" stroke="#ff0000" stroke-width="1.4" fill="none"/>
<polyline points="1049.6,1189.1 1057.7,1197.3 1049.6,1205.5" stroke="#ff0000" stroke-width="1.4" fill="none"/>
<text transform="translate(859.3,1194.2) scale(0.9184,1)" fill="#ff0000" font-size="14.1">IO0</text>
<text transform="translate(1058.6,1200.8) scale(0.9184,1)" fill="#ff0000" font-size="14.1">IO0</text>
<line x1="855.1" y1="1244.3" x2="1042" y2="1244.3" stroke="#800040" stroke-width="1.4"/>
<polyline points="1041.2,1236.1 1049.6,1244.3 1041.2,1252.5" stroke="#ff0000" stroke-width="1.4" fill="none"/>
<polyline points="1049.6,1236.1 1057.7,1244.3 1049.6,1252.5" stroke="#ff0000" stroke-width="1.4" fill="none"/>
<text transform="translate(859.3,1241.2) scale(0.9184,1)" fill="#ff0000" font-size="14.1">IO35</text>
<text transform="translate(1058.6,1247.8) scale(0.9184,1)" fill="#ff0000" font-size="14.1">IO35</text>
<rect x="1602" y="808.1" width="155.5" height="77.4" stroke="#0000ff" stroke-width="1.5" fill="none"/>
<line x1="1633.2" y1="683.2" x2="1633.2" y2="761" stroke="#800040" stroke-width="1.4"/>
<line x1="1633.2" y1="761" x2="1633.2" y2="808.1" stroke="#ff0000" stroke-width="1.4"/>
<line x1="1633.2" y1="885.5" x2="1633.2" y2="933.6" stroke="#ff0000" stroke-width="1.4"/>
<line x1="1633.2" y1="933.6" x2="1633.2" y2="1026.1" stroke="#800040" stroke-width="1.4"/>
<text transform="translate(1631.3,712) rotate(-90) scale(0.9184,1)" fill="#ff0000" font-size="14.1">RST/EN</text>
<text transform="translate(1631.3,1006.9) rotate(-90) scale(0.9184,1)" fill="#ff0000" font-size="14.1">RTS</text>
<text transform="translate(1631.3,797) rotate(-90) scale(0.9184,1)" fill="#000000" font-size="14.1">6</text>
<text transform="translate(1631.3,903.5) rotate(-90) scale(0.9184,1)" fill="#000000" font-size="14.1">1</text>
<text transform="translate(1639.7,823.5) rotate(-90) scale(0.9858,1)" fill="#004080" font-size="14.1">6</text>
<text transform="translate(1639.7,877.1) rotate(-90) scale(0.9858,1)" fill="#004080" font-size="14.1">1</text>
<line x1="1679.9" y1="683.2" x2="1679.9" y2="761" stroke="#800040" stroke-width="1.4"/>
<line x1="1679.9" y1="761" x2="1679.9" y2="808.1" stroke="#ff0000" stroke-width="1.4"/>
<line x1="1679.9" y1="885.5" x2="1679.9" y2="933.6" stroke="#ff0000" stroke-width="1.4"/>
<line x1="1679.9" y1="933.6" x2="1679.9" y2="1026.1" stroke="#800040" stroke-width="1.4"/>
<text transform="translate(1678,712) rotate(-90) scale(0.9184,1)" fill="#ff0000" font-size="14.1">RTS</text>
<text transform="translate(1678,1006.9) rotate(-90) scale(0.9184,1)" fill="#ff0000" font-size="14.1">DTR</text>
<text transform="translate(1678,797) rotate(-90) scale(0.9184,1)" fill="#000000" font-size="14.1">5</text>
<text transform="translate(1678,903.5) rotate(-90) scale(0.9184,1)" fill="#000000" font-size="14.1">2</text>
<text transform="translate(1686.4,823.5) rotate(-90) scale(0.9858,1)" fill="#004080" font-size="14.1">5</text>
<text transform="translate(1686.4,877.1) rotate(-90) scale(0.9858,1)" fill="#004080" font-size="14.1">2</text>
<line x1="1726.3" y1="683.2" x2="1726.3" y2="761" stroke="#800040" stroke-width="1.4"/>
<line x1="1726.3" y1="761" x2="1726.3" y2="808.1" stroke="#ff0000" stroke-width="1.4"/>
<line x1="1726.3" y1="885.5" x2="1726.3" y2="933.6" stroke="#ff0000" stroke-width="1.4"/>
<line x1="1726.3" y1="933.6" x2="1726.3" y2="1026.1" stroke="#800040" stroke-width="1.4"/>
<text transform="translate(1724.4,712) rotate(-90) scale(0.9184,1)" fill="#ff0000" font-size="14.1">DTR</text>
<text transform="translate(1724.4,1006.9) rotate(-90) scale(0.9184,1)" fill="#ff0000" font-size="14.1">IO0</text>
<text transform="translate(1724.4,797) rotate(-90) scale(0.9184,1)" fill="#000000" font-size="14.1">4</text>
<text transform="translate(1724.4,903.5) rotate(-90) scale(0.9184,1)" fill="#000000" font-size="14.1">3</text>
<text transform="translate(1732.8,823.5) rotate(-90) scale(0.9858,1)" fill="#004080" font-size="14.1">4</text>
<text transform="translate(1732.8,877.1) rotate(-90) scale(0.9858,1)" fill="#004080" font-size="14.1">3</text>
<text transform="translate(1556.3,836.3) scale(0.9184,1)" fill="#000080" font-size="14.1">U3</text>
<text transform="translate(1785.6,874.7) rotate(-90) scale(0.9184,1)" fill="#000080" font-size="14.1">UMH3N</text>
<circle cx="2010.9" cy="419.4" r="4.6" stroke="#ff0000" stroke-width="1.4" fill="none"/>
<text transform="translate(1982.1,422.5) scale(0.9184,1)" fill="#000000" font-size="14.1">+5V</text>
<line x1="2015.5" y1="419.4" x2="2022.5" y2="419.4" stroke="#ff0000" stroke-width="1.4"/>
<line x1="2022.5" y1="419.4" x2="2332.8" y2="419.4" stroke="#800040" stroke-width="1.4"/>
<line x1="2332.8" y1="419.4" x2="2379.8" y2="419.4" stroke="#ff0000" stroke-width="1.4"/>
<line x1="2068.4" y1="419.4" x2="2068.4" y2="435" stroke="#800040" stroke-width="1.4"/>
<line x1="2068.4" y1="435" x2="2068.4" y2="450.7" stroke="#ff0000" stroke-width="1.4"/>
<line x1="2068.4" y1="450.7" x2="2068.4" y2="455.2" stroke="#0000ff" stroke-width="1.4"/>
<line x1="2068.4" y1="463.2" x2="2068.4" y2="467.7" stroke="#0000ff" stroke-width="1.4"/>
<line x1="2068.4" y1="467.7" x2="2068.4" y2="482.4" stroke="#ff0000" stroke-width="1.4"/>
<line x1="2068.4" y1="482.4" x2="2068.4" y2="528.2" stroke="#800040" stroke-width="1.4"/>
<line x1="2054" y1="455.2" x2="2082.8" y2="455.2" stroke="#0000ff" stroke-width="1.5"/>
<line x1="2054" y1="463.2" x2="2082.8" y2="463.2" stroke="#0000ff" stroke-width="1.5"/>
<line x1="2052.4" y1="528.2" x2="2084.4" y2="528.2" stroke="#ff0000" stroke-width="1.4"/>
<line x1="2057.2" y1="532.95" x2="2079.6" y2="532.95" stroke="#ff0000" stroke-width="1.4"/>
<line x1="2061.7" y1="537.7" x2="2075.1" y2="537.7" stroke="#ff0000" stroke-width="1.4"/>
<line x1="2065.7" y1="542.45" x2="2071.1" y2="542.45" stroke="#ff0000" stroke-width="1.4"/>
<text transform="translate(2094.3,464.2) scale(0.9184,1)" fill="#000080" font-size="14.1">C27</text>
<text transform="translate(2094.3,481.9) scale(0.9184,1)" fill="#000080" font-size="14.1">100nF</text>
<text transform="translate(2094.3,500.9) scale(0.9184,1)" fill="#000000" font-size="14.1">C0402</text>
<polyline points="2146,419.4 2146,466.6 2192.2,466.6" stroke="#800040" stroke-width="1.4" fill="none"/>
<line x1="2192.2" y1="466.6" x2="2208.6" y2="466.6" stroke="#ff0000" stroke-width="1.4"/>
<polyline points="2208.6,466.6 2213.3,461.8 2222.7,471.4 2232.1,461.8 2241.5,471.4 2250.9,461.8 2255.6,466.6" stroke="#0000ff" stroke-width="1.4" fill="none"/>
<line x1="2255.6" y1="466.6" x2="2270.8" y2="466.6" stroke="#ff0000" stroke-width="1.4"/>
<line x1="2270.8" y1="466.6" x2="2332.8" y2="466.6" stroke="#800040" stroke-width="1.4"/>
<line x1="2332.8" y1="466.6" x2="2379.8" y2="466.6" stroke="#ff0000" stroke-width="1.4"/>
<text transform="translate(2208.6,440.7) scale(0.9184,1)" fill="#000080" font-size="14.1">R57</text>
<text transform="translate(2209.5,503.7) scale(0.9184,1)" fill="#000080" font-size="14.1">10K</text>
<text transform="translate(2208.6,522.1) scale(0.9184,1)" fill="#000000" font-size="14.1">R0402</text>
<rect x="2379.8" y="403.9" width="93.2" height="77.7" stroke="#0000ff" stroke-width="1.5" fill="none"/>
<line x1="2473" y1="419.4" x2="2519.8" y2="419.4" stroke="#ff0000" stroke-width="1.4"/>
<line x1="2519.8" y1="419.4" x2="2581.4" y2="419.4" stroke="#800040" stroke-width="1.4"/>
<line x1="2473" y1="466.6" x2="2519.8" y2="466.6" stroke="#ff0000" stroke-width="1.4"/>
<line x1="2426.4" y1="481.6" x2="2426.4" y2="528.5" stroke="#ff0000" stroke-width="1.4"/>
<line x1="2426.4" y1="528.5" x2="2426.4" y2="590.7" stroke="#800040" stroke-width="1.4"/>
<line x1="2410.4" y1="590.7" x2="2442.4" y2="590.7" stroke="#ff0000" stroke-width="1.4"/>
<line x1="2415.2" y1="595.45" x2="2437.6" y2="595.45" stroke="#ff0000" stroke-width="1.4"/>
<line x1="2419.7" y1="600.2" x2="2433.1" y2="600.2" stroke="#ff0000" stroke-width="1.4"/>
<line x1="2423.7" y1="604.95" x2="2429.1" y2="604.95" stroke="#ff0000" stroke-width="1.4"/>
<text transform="translate(2367.3,415.6) scale(0.9184,1)" fill="#000000" font-size="14.1" text-anchor="end">1</text>
<text transform="translate(2367.3,462.6) scale(0.9184,1)" fill="#000000" font-size="14.1" text-anchor="end">3</text>
<text transform="translate(2484.4,415.6) scale(0.9184,1)" fill="#000000" font-size="14.1">5</text>
<text transform="translate(2484.4,462.6) scale(0.9184,1)" fill="#000000" font-size="14.1">4</text>
<text transform="translate(2422.9,500.6) rotate(-90) scale(0.9184,1)" fill="#000000" font-size="14.1">2</text>
<text transform="translate(2388.4,425.8) scale(0.9858,1)" fill="#004080" font-size="14.1">IN</text>
<text transform="translate(2388.4,472.6) scale(0.9858,1)" fill="#004080" font-size="14.1">EN</text>
<text transform="translate(2464.4,425.8) scale(0.9858,1)" fill="#004080" font-size="14.1" text-anchor="end">OUT</text>
<text transform="translate(2465.4,472.6) scale(0.9858,1)" fill="#004080" font-size="14.1" text-anchor="end">BP</text>
<text transform="translate(2433,472.9) rotate(-90) scale(0.9858,1)" fill="#004080" font-size="14.1">GND</text>
<text transform="translate(2390.6,395.6) scale(0.9184,1)" fill="#000080" font-size="14.1">U8</text>
<text transform="translate(2441.9,510) scale(0.9184,1)" fill="#000080" font-size="14.1">ME6211</text>
<circle cx="2581.4" cy="377.5" r="4.6" stroke="#ff0000" stroke-width="1.4" fill="none"/>
<line x1="2581.4" y1="382.1" x2="2581.4" y2="388.3" stroke="#ff0000" stroke-width="1.4"/>
<line x1="2581.4" y1="388.3" x2="2581.4" y2="419.4" stroke="#800040" stroke-width="1.4"/>
<line x1="2581.4" y1="419.4" x2="2581.4" y2="435.35" stroke="#ff0000" stroke-width="1.4"/>
<line x1="2581.4" y1="435.35" x2="2581.4" y2="439.85" stroke="#0000ff" stroke-width="1.4"/>
<line x1="2581.4" y1="447.85" x2="2581.4" y2="452.35" stroke="#0000ff" stroke-width="1.4"/>
<line x1="2581.4" y1="452.35" x2="2581.4" y2="466.6" stroke="#ff0000" stroke-width="1.4"/>
<line x1="2581.4" y1="466.6" x2="2581.4" y2="512.7" stroke="#800040" stroke-width="1.4"/>
<line x1="2567" y1="439.85" x2="2595.8" y2="439.85" stroke="#0000ff" stroke-width="1.5"/>
<line x1="2567" y1="447.85" x2="2595.8" y2="447.85" stroke="#0000ff" stroke-width="1.5"/>
<line x1="2565.4" y1="512.7" x2="2597.4" y2="512.7" stroke="#ff0000" stroke-width="1.4"/>
<line x1="2570.2" y1="517.45" x2="2592.6" y2="517.45" stroke="#ff0000" stroke-width="1.4"/>
<line x1="2574.7" y1="522.2" x2="2588.1" y2="522.2" stroke="#ff0000" stroke-width="1.4"/>
<line x1="2578.7" y1="526.95" x2="2584.1" y2="526.95" stroke="#ff0000" stroke-width="1.4"/>
<text transform="translate(2566.7,366.2) scale(0.9184,1)" fill="#000000" font-size="14.1">+3V3</text>
<text transform="translate(2607,447.4) scale(0.9184,1)" fill="#000080" font-size="14.1">C25</text>
<text transform="translate(2607,466.4) scale(0.9184,1)" fill="#000080" font-size="14.1">100nF</text>
<text transform="translate(2607,485.4) scale(0.9184,1)" fill="#000000" font-size="14.1">C0402</text>
<circle cx="2010.9" cy="823.9" r="4.6" stroke="#ff0000" stroke-width="1.4" fill="none"/>
<text transform="translate(1982.1,827) scale(0.9184,1)" fill="#000000" font-size="14.1">+5V</text>
<line x1="2015.5" y1="823.9" x2="2022.5" y2="823.9" stroke="#ff0000" stroke-width="1.4"/>
<line x1="2022.5" y1="823.9" x2="2332.8" y2="823.9" stroke="#800040" stroke-width="1.4"/>
<line x1="2332.8" y1="823.9" x2="2379.8" y2="823.9" stroke="#ff0000" stroke-width="1.4"/>
<line x1="2068.4" y1="823.9" x2="2068.4" y2="839.5" stroke="#800040" stroke-width="1.4"/>
<line x1="2068.4" y1="839.5" x2="2068.4" y2="855.2" stroke="#ff0000" stroke-width="1.4"/>
<line x1="2068.4" y1="855.2" x2="2068.4" y2="859.7" stroke="#0000ff" stroke-width="1.4"/>
<line x1="2068.4" y1="867.7" x2="2068.4" y2="872.2" stroke="#0000ff" stroke-width="1.4"/>
<line x1="2068.4" y1="872.2" x2="2068.4" y2="886.9" stroke="#ff0000" stroke-width="1.4"/>
<line x1="2068.4" y1="886.9" x2="2068.4" y2="932.7" stroke="#800040" stroke-width="1.4"/>
<line x1="2054" y1="859.7" x2="2082.8" y2="859.7" stroke="#0000ff" stroke-width="1.5"/>
<line x1="2054" y1="867.7" x2="2082.8" y2="867.7" stroke="#0000ff" stroke-width="1.5"/>
<line x1="2052.4" y1="932.7" x2="2084.4" y2="932.7" stroke="#ff0000" stroke-width="1.4"/>
<line x1="2057.2" y1="937.45" x2="2079.6" y2="937.45" stroke="#ff0000" stroke-width="1.4"/>
<line x1="2061.7" y1="942.2" x2="2075.1" y2="942.2" stroke="#ff0000" stroke-width="1.4"/>
<line x1="2065.7" y1="946.95" x2="2071.1" y2="946.95" stroke="#ff0000" stroke-width="1.4"/>
<text transform="translate(2094.3,868.7) scale(0.9184,1)" fill="#000080" font-size="14.1">C29</text>
<text transform="translate(2094.3,886.4) scale(0.9184,1)" fill="#000080" font-size="14.1">100nF</text>
<text transform="translate(2094.3,905.4) scale(0.9184,1)" fill="#000000" font-size="14.1">C0402</text>
<polyline points="2146,823.9 2146,871.1 2192.2,871.1" stroke="#800040" stroke-width="1.4" fill="none"/>
<line x1="2192.2" y1="871.1" x2="2208.6" y2="871.1" stroke="#ff0000" stroke-width="1.4"/>
<polyline points="2208.6,871.1 2213.3,866.3 2222.7,875.9 2232.1,866.3 2241.5,875.9 2250.9,866.3 2255.6,871.1" stroke="#0000ff" stroke-width="1.4" fill="none"/>
<line x1="2255.6" y1="871.1" x2="2270.8" y2="871.1" stroke="#ff0000" stroke-width="1.4"/>
<line x1="2270.8" y1="871.1" x2="2332.8" y2="871.1" stroke="#800040" stroke-width="1.4"/>
<line x1="2332.8" y1="871.1" x2="2379.8" y2="871.1" stroke="#ff0000" stroke-width="1.4"/>
<text transform="translate(2208.6,845.2) scale(0.9184,1)" fill="#000080" font-size="14.1">R58</text>
<text transform="translate(2209.5,908.2) scale(0.9184,1)" fill="#000080" font-size="14.1">10K</text>
<text transform="translate(2208.6,926.6) scale(0.9184,1)" fill="#000000" font-size="14.1">R0402</text>
<rect x="2379.8" y="808.4" width="93.2" height="77.7" stroke="#0000ff" stroke-width="1.5" fill="none"/>
<line x1="2473" y1="823.9" x2="2519.8" y2="823.9" stroke="#ff0000" stroke-width="1.4"/>
<line x1="2519.8" y1="823.9" x2="2581.4" y2="823.9" stroke="#800040" stroke-width="1.4"/>
<line x1="2473" y1="871.1" x2="2519.8" y2="871.1" stroke="#ff0000" stroke-width="1.4"/>
<line x1="2426.4" y1="886.1" x2="2426.4" y2="933" stroke="#ff0000" stroke-width="1.4"/>
<line x1="2426.4" y1="933" x2="2426.4" y2="995.2" stroke="#800040" stroke-width="1.4"/>
<line x1="2410.4" y1="995.2" x2="2442.4" y2="995.2" stroke="#ff0000" stroke-width="1.4"/>
<line x1="2415.2" y1="999.95" x2="2437.6" y2="999.95" stroke="#ff0000" stroke-width="1.4"/>
<line x1="2419.7" y1="1004.7" x2="2433.1" y2="1004.7" stroke="#ff0000" stroke-width="1.4"/>
<line x1="2423.7" y1="1009.45" x2="2429.1" y2="1009.45" stroke="#ff0000" stroke-width="1.4"/>
<text transform="translate(2367.3,820.1) scale(0.9184,1)" fill="#000000" font-size="14.1" text-anchor="end">1</text>
<text transform="translate(2367.3,867.1) scale(0.9184,1)" fill="#000000" font-size="14.1" text-anchor="end">3</text>
<text transform="translate(2484.4,820.1) scale(0.9184,1)" fill="#000000" font-size="14.1">5</text>
<text transform="translate(2484.4,867.1) scale(0.9184,1)" fill="#000000" font-size="14.1">4</text>
<text transform="translate(2422.9,905.1) rotate(-90) scale(0.9184,1)" fill="#000000" font-size="14.1">2</text>
<text transform="translate(2388.4,830.3) scale(0.9858,1)" fill="#004080" font-size="14.1">IN</text>
<text transform="translate(2388.4,877.1) scale(0.9858,1)" fill="#004080" font-size="14.1">EN</text>
<text transform="translate(2464.4,830.3) scale(0.9858,1)" fill="#004080" font-size="14.1" text-anchor="end">OUT</text>
<text transform="translate(2465.4,877.1) scale(0.9858,1)" fill="#004080" font-size="14.1" text-anchor="end">BP</text>
<text transform="translate(2433,877.4) rotate(-90) scale(0.9858,1)" fill="#004080" font-size="14.1">GND</text>
<text transform="translate(2390.6,800.1) scale(0.9184,1)" fill="#000080" font-size="14.1">U9</text>
<text transform="translate(2441.9,914.5) scale(0.9184,1)" fill="#000080" font-size="14.1">ME6211</text>
<circle cx="2581.4" cy="782" r="4.6" stroke="#ff0000" stroke-width="1.4" fill="none"/>
<line x1="2581.4" y1="786.6" x2="2581.4" y2="792.8" stroke="#ff0000" stroke-width="1.4"/>
<line x1="2581.4" y1="792.8" x2="2581.4" y2="823.9" stroke="#800040" stroke-width="1.4"/>
<line x1="2581.4" y1="823.9" x2="2581.4" y2="839.85" stroke="#ff0000" stroke-width="1.4"/>
<line x1="2581.4" y1="839.85" x2="2581.4" y2="844.35" stroke="#0000ff" stroke-width="1.4"/>
<line x1="2581.4" y1="852.35" x2="2581.4" y2="856.85" stroke="#0000ff" stroke-width="1.4"/>
<line x1="2581.4" y1="856.85" x2="2581.4" y2="871.1" stroke="#ff0000" stroke-width="1.4"/>
<line x1="2581.4" y1="871.1" x2="2581.4" y2="917.2" stroke="#800040" stroke-width="1.4"/>
<line x1="2567" y1="844.35" x2="2595.8" y2="844.35" stroke="#0000ff" stroke-width="1.5"/>
<line x1="2567" y1="852.35" x2="2595.8" y2="852.35" stroke="#0000ff" stroke-width="1.5"/>
<line x1="2565.4" y1="917.2" x2="2597.4" y2="917.2" stroke="#ff0000" stroke-width="1.4"/>
<line x1="2570.2" y1="921.95" x2="2592.6" y2="921.95" stroke="#ff0000" stroke-width="1.4"/>
<line x1="2574.7" y1="926.7" x2="2588.1" y2="926.7" stroke="#ff0000" stroke-width="1.4"/>
<line x1="2578.7" y1="931.45" x2="2584.1" y2="931.45" stroke="#ff0000" stroke-width="1.4"/>
<text transform="translate(2566.7,770.7) scale(0.9184,1)" fill="#000000" font-size="14.1">VCC3V3</text>
<text transform="translate(2607,851.9) scale(0.9184,1)" fill="#000080" font-size="14.1">C28</text>
<text transform="translate(2607,870.9) scale(0.9184,1)" fill="#000080" font-size="14.1">100nF</text>
<text transform="translate(2607,889.9) scale(0.9184,1)" fill="#000000" font-size="14.1">C0402</text>
<line x1="139.6" y1="948.4" x2="326.4" y2="948.4" stroke="#800040" stroke-width="1.4"/>
<line x1="326.4" y1="948.4" x2="342" y2="948.4" stroke="#ff0000" stroke-width="1.4"/>
<polyline points="342,948.4 346.7,953.4 356.1,943.4 365.5,953.4 374.9,943.4 384.3,953.4 389,948.4" stroke="#0000ff" stroke-width="1.4" fill="none"/>
<line x1="389" y1="948.4" x2="405" y2="948.4" stroke="#ff0000" stroke-width="1.4"/>
<line x1="405" y1="948.4" x2="560.2" y2="948.4" stroke="#800040" stroke-width="1.4"/>
<line x1="139.6" y1="1010.7" x2="326.4" y2="1010.7" stroke="#800040" stroke-width="1.4"/>
<line x1="326.4" y1="1010.7" x2="342" y2="1010.7" stroke="#ff0000" stroke-width="1.4"/>
<polyline points="342,1010.7 346.7,1015.7 356.1,1005.7 365.5,1015.7 374.9,1005.7 384.3,1015.7 389,1010.7" stroke="#0000ff" stroke-width="1.4" fill="none"/>
<line x1="389" y1="1010.7" x2="405" y2="1010.7" stroke="#ff0000" stroke-width="1.4"/>
<line x1="405" y1="1010.7" x2="560.2" y2="1010.7" stroke="#800040" stroke-width="1.4"/>
<text transform="translate(143.4,945.5) scale(0.9184,1)" fill="#ff0000" font-size="14.1">D+</text>
<text transform="translate(143.4,1007.8) scale(0.9184,1)" fill="#ff0000" font-size="14.1">D-</text>
<text transform="translate(549.6,945.5) scale(0.9184,1)" fill="#ff0000" font-size="14.1" text-anchor="end">DP</text>
<text transform="translate(551.8,1007.8) scale(0.9184,1)" fill="#ff0000" font-size="14.1" text-anchor="end">DM</text>
<polyline points="264.2,948.4 264.2,963.9 326.4,963.9" stroke="#800040" stroke-width="1.4" fill="none"/>
<polyline points="264.2,1010.7 264.2,994.9 326.4,994.9" stroke="#800040" stroke-width="1.4" fill="none"/>
<line x1="326.4" y1="963.9" x2="342" y2="963.9" stroke="#ff0000" stroke-width="1.4"/>
<line x1="326.4" y1="994.9" x2="342" y2="994.9" stroke="#ff0000" stroke-width="1.4"/>
<path d="M342,963.9 A7.84,7.84 0 0 0 357.68,963.9 A7.84,7.84 0 0 0 373.35,963.9 A7.84,7.84 0 0 0 389.02,963.9 A7.84,7.84 0 0 0 404.7,963.9" stroke="#0000ff" stroke-width="1.5" fill="none"/>
<path d="M342,994.9 A7.84,7.84 0 0 1 357.68,994.9 A7.84,7.84 0 0 1 373.35,994.9 A7.84,7.84 0 0 1 389.02,994.9 A7.84,7.84 0 0 1 404.7,994.9" stroke="#0000ff" stroke-width="1.5" fill="none"/>
<circle cx="350.6" cy="965.7" r="2.5" fill="#0000ff"/>
<circle cx="350.6" cy="992.2" r="2.5" fill="#0000ff"/>
<line x1="342" y1="976.2" x2="405" y2="976.2" stroke="#0000ff" stroke-width="1.4"/>
<line x1="342" y1="982.4" x2="405" y2="982.4" stroke="#0000ff" stroke-width="1.4"/>
<line x1="404.7" y1="963.9" x2="420.7" y2="963.9" stroke="#ff0000" stroke-width="1.4"/>
<line x1="420.7" y1="963.9" x2="467" y2="963.9" stroke="#800040" stroke-width="1.4"/>
<line x1="404.7" y1="994.9" x2="420.7" y2="994.9" stroke="#ff0000" stroke-width="1.4"/>
<line x1="420.7" y1="994.9" x2="467" y2="994.9" stroke="#800040" stroke-width="1.4"/>
<line x1="467" y1="948.4" x2="467" y2="963.9" stroke="#800040" stroke-width="1.4"/>
<line x1="467" y1="994.9" x2="467" y2="1010.7" stroke="#800040" stroke-width="1.4"/>
<text transform="translate(311.7,945.9) scale(0.9184,1)" fill="#000080" font-size="14.1">R25</text>
<text transform="translate(390,945.6) scale(0.9184,1)" fill="#000080" font-size="14.1">10R</text>
<text transform="translate(389.8,960.5) scale(0.9184,1)" fill="#000000" font-size="14.1">R0402</text>
<text transform="translate(330.6,959.9) scale(0.9184,1)" fill="#000000" font-size="14.1" text-anchor="end">2</text>
<text transform="translate(417.2,959.9) scale(0.9184,1)" fill="#000000" font-size="14.1">3</text>
<text transform="translate(420.3,973.9) scale(0.9184,1)" fill="#005000" font-size="14.1">ACM2012-2P</text>
<text transform="translate(295.8,988.6) scale(0.9184,1)" fill="#000080" font-size="14.1">8L4</text>
<text transform="translate(329.8,991.6) scale(0.9184,1)" fill="#000000" font-size="14.1" text-anchor="end">1</text>
<text transform="translate(416,991.6) scale(0.9184,1)" fill="#000000" font-size="14.1">4</text>
<text transform="translate(311.7,1007.8) scale(0.9184,1)" fill="#000080" font-size="14.1">R24</text>
<text transform="translate(390,1007.9) scale(0.9184,1)" fill="#000080" font-size="14.1">10R</text>
<text transform="translate(389.8,1023.5) scale(0.9184,1)" fill="#000000" font-size="14.1">R0402</text>
<line x1="202.1" y1="948.4" x2="202.1" y2="1025.4" stroke="#800040" stroke-width="1.4"/>
<line x1="202.1" y1="1025.4" x2="202.1" y2="1041.9" stroke="#ff0000" stroke-width="1.4"/>
<line x1="202.1" y1="1041.9" x2="202.1" y2="1056.8" stroke="#0000ff" stroke-width="1.4"/>
<polygon points="190.7,1056.8 213.5,1056.8 202.1,1072.8" fill="#0000ff" stroke="#0000ff" stroke-width="0.6"/>
<polygon points="190.7,1088.8 213.5,1088.8 202.1,1072.8" fill="#0000ff" stroke="#0000ff" stroke-width="0.6"/>
<polyline points="190.7,1077.7 194.5,1072.8 209.7,1072.8 213.5,1067.6" stroke="#0000ff" stroke-width="1.4" fill="none"/>
<line x1="202.1" y1="1088.8" x2="202.1" y2="1103.9" stroke="#0000ff" stroke-width="1.4"/>
<line x1="202.1" y1="1103.9" x2="202.1" y2="1119.9" stroke="#ff0000" stroke-width="1.4"/>
<line x1="202.1" y1="1119.9" x2="202.1" y2="1150.1" stroke="#800040" stroke-width="1.4"/>
<line x1="233.4" y1="1010.7" x2="233.4" y2="1025.4" stroke="#800040" stroke-width="1.4"/>
<line x1="233.4" y1="1025.4" x2="233.4" y2="1041.9" stroke="#ff0000" stroke-width="1.4"/>
<line x1="233.4" y1="1041.9" x2="233.4" y2="1056.8" stroke="#0000ff" stroke-width="1.4"/>
<polygon points="222,1056.8 244.8,1056.8 233.4,1072.8" fill="#0000ff" stroke="#0000ff" stroke-width="0.6"/>
<polygon points="222,1088.8 244.8,1088.8 233.4,1072.8" fill="#0000ff" stroke="#0000ff" stroke-width="0.6"/>
<polyline points="222,1077.7 225.8,1072.8 241,1072.8 244.8,1067.6" stroke="#0000ff" stroke-width="1.4" fill="none"/>
<line x1="233.4" y1="1088.8" x2="233.4" y2="1103.9" stroke="#0000ff" stroke-width="1.4"/>
<line x1="233.4" y1="1103.9" x2="233.4" y2="1119.9" stroke="#ff0000" stroke-width="1.4"/>
<line x1="233.4" y1="1119.9" x2="233.4" y2="1150.1" stroke="#800040" stroke-width="1.4"/>
<polyline points="202.1,1150.1 233.4,1150.1 233.4,1119.9" stroke="#800040" stroke-width="1.4" fill="none"/>
<line x1="202.1" y1="1150.1" x2="202.1" y2="1181.6" stroke="#800040" stroke-width="1.4"/>
<line x1="186.1" y1="1181.6" x2="218.1" y2="1181.6" stroke="#ff0000" stroke-width="1.4"/>
<line x1="190.9" y1="1186.35" x2="213.3" y2="1186.35" stroke="#ff0000" stroke-width="1.4"/>
<line x1="195.4" y1="1191.1" x2="208.8" y2="1191.1" stroke="#ff0000" stroke-width="1.4"/>
<line x1="199.4" y1="1195.85" x2="204.8" y2="1195.85" stroke="#ff0000" stroke-width="1.4"/>
<text transform="translate(262.1,1052.7) rotate(-90) scale(0.9184,1)" fill="#000080" font-size="14.1">ED7</text>
<text transform="translate(262.1,1129.8) rotate(-90) scale(0.9184,1)" fill="#000000" font-size="14.1">R0402</text>
<text transform="translate(262.1,1205.6) rotate(-90) scale(0.9184,1)" fill="#000080" font-size="14.1">ULC0511C</text>
<text transform="translate(277.2,1052.7) rotate(-90) scale(0.9184,1)" fill="#000080" font-size="14.1">ED8</text>
<text transform="translate(277.2,1129.8) rotate(-90) scale(0.9184,1)" fill="#000000" font-size="14.1">R0402</text>
<text transform="translate(277.2,1205.6) rotate(-90) scale(0.9184,1)" fill="#000080" font-size="14.1">ULC0511C</text>
<circle cx="1166.5" cy="1512.5" r="4.6" stroke="#ff0000" stroke-width="1.4" fill="none"/>
<text transform="translate(1151.2,1502.8) scale(0.9184,1)" fill="#000000" font-size="14.1">VBAT</text>
<line x1="1166.5" y1="1517.1" x2="1166.5" y2="1523.3" stroke="#ff0000" stroke-width="1.4"/>
<line x1="1166.5" y1="1523.3" x2="1166.5" y2="1601.4" stroke="#800040" stroke-width="1.4"/>
<line x1="1166.5" y1="1601.4" x2="1166.5" y2="1617" stroke="#ff0000" stroke-width="1.4"/>
<polyline points="1166.5,1617 1171.3,1621.69 1161.7,1631.07 1171.3,1640.45 1161.7,1649.83 1171.3,1659.21 1166.5,1663.9" stroke="#0000ff" stroke-width="1.4" fill="none"/>
<line x1="1166.5" y1="1663.9" x2="1166.5" y2="1679" stroke="#ff0000" stroke-width="1.4"/>
<line x1="1166.5" y1="1679" x2="1166.5" y2="1725.2" stroke="#800040" stroke-width="1.4"/>
<line x1="1166.5" y1="1725.2" x2="1166.5" y2="1740.8" stroke="#ff0000" stroke-width="1.4"/>
<polyline points="1166.5,1740.8 1171.3,1745.49 1161.7,1754.87 1171.3,1764.25 1161.7,1773.63 1171.3,1783.01 1166.5,1787.7" stroke="#0000ff" stroke-width="1.4" fill="none"/>
<line x1="1166.5" y1="1787.7" x2="1166.5" y2="1803.3" stroke="#ff0000" stroke-width="1.4"/>
<line x1="1166.5" y1="1803.3" x2="1166.5" y2="1834.6" stroke="#800040" stroke-width="1.4"/>
<line x1="1150.5" y1="1834.6" x2="1182.5" y2="1834.6" stroke="#ff0000" stroke-width="1.4"/>
<line x1="1155.3" y1="1839.35" x2="1177.7" y2="1839.35" stroke="#ff0000" stroke-width="1.4"/>
<line x1="1159.8" y1="1844.1" x2="1173.2" y2="1844.1" stroke="#ff0000" stroke-width="1.4"/>
<line x1="1163.8" y1="1848.85" x2="1169.2" y2="1848.85" stroke="#ff0000" stroke-width="1.4"/>
<line x1="1166.5" y1="1710.3" x2="1306.7" y2="1710.3" stroke="#800040" stroke-width="1.4"/>
<text transform="translate(1306.4,1707.2) scale(0.9184,1)" fill="#ff0000" font-size="14.1" text-anchor="end">IO35</text>
<text transform="translate(1191.8,1629.5) scale(0.9184,1)" fill="#000080" font-size="14.1">R44</text>
<text transform="translate(1191.8,1648.3) scale(0.9184,1)" fill="#000080" font-size="14.1">100K</text>
<text transform="translate(1191.8,1667.5) scale(0.9184,1)" fill="#000000" font-size="14.1">R0402</text>
<text transform="translate(1191.8,1753.7) scale(0.9184,1)" fill="#000080" font-size="14.1">R45</text>
<text transform="translate(1191.8,1772.5) scale(0.9184,1)" fill="#000080" font-size="14.1">100K</text>
<text transform="translate(1191.8,1791.7) scale(0.9184,1)" fill="#000000" font-size="14.1">R0402</text>
<circle cx="1788.4" cy="1419.2" r="4.6" stroke="#ff0000" stroke-width="1.4" fill="none"/>
<text transform="translate(1770.9,1408.5) scale(0.9184,1)" fill="#000000" font-size="14.1">VBUS</text>
<line x1="1788.4" y1="1423.8" x2="1788.4" y2="1429.8" stroke="#ff0000" stroke-width="1.4"/>
<line x1="1788.4" y1="1429.8" x2="1788.4" y2="1492.6" stroke="#800040" stroke-width="1.4"/>
<line x1="1788.4" y1="1492.6" x2="1788.4" y2="1538.9" stroke="#ff0000" stroke-width="1.4"/>
<line x1="1617.4" y1="1461.2" x2="1663.6" y2="1461.2" stroke="#800040" stroke-width="1.4"/>
<line x1="1663.6" y1="1461.2" x2="1680.1" y2="1461.2" stroke="#ff0000" stroke-width="1.4"/>
<polyline points="1680.1,1461.2 1684.7,1466 1693.9,1456.4 1703.1,1466 1712.3,1456.4 1721.5,1466 1726.1,1461.2" stroke="#0000ff" stroke-width="1.4" fill="none"/>
<line x1="1726.1" y1="1461.2" x2="1742.6" y2="1461.2" stroke="#ff0000" stroke-width="1.4"/>
<line x1="1742.6" y1="1461.2" x2="1850.4" y2="1461.2" stroke="#800040" stroke-width="1.4"/>
<line x1="1850.4" y1="1461.2" x2="1865.5" y2="1461.2" stroke="#ff0000" stroke-width="1.4"/>
<line x1="1865.5" y1="1461.2" x2="1869.6" y2="1461.2" stroke="#0000ff" stroke-width="1.4"/>
<line x1="1869.6" y1="1446.8" x2="1869.6" y2="1475.6" stroke="#0000ff" stroke-width="1.5"/>
<line x1="1877.6" y1="1446.8" x2="1877.6" y2="1475.6" stroke="#0000ff" stroke-width="1.5"/>
<line x1="1877.6" y1="1461.2" x2="1882" y2="1461.2" stroke="#0000ff" stroke-width="1.4"/>
<line x1="1882" y1="1461.2" x2="1897.9" y2="1461.2" stroke="#ff0000" stroke-width="1.4"/>
<line x1="1897.9" y1="1461.2" x2="1928.4" y2="1461.2" stroke="#800040" stroke-width="1.4"/>
<line x1="1928.4" y1="1445.2" x2="1928.4" y2="1477.2" stroke="#ff0000" stroke-width="1.4"/>
<line x1="1933.15" y1="1450" x2="1933.15" y2="1472.4" stroke="#ff0000" stroke-width="1.4"/>
<line x1="1937.9" y1="1454.5" x2="1937.9" y2="1467.9" stroke="#ff0000" stroke-width="1.4"/>
<line x1="1942.65" y1="1458.5" x2="1942.65" y2="1463.9" stroke="#ff0000" stroke-width="1.4"/>
<text transform="translate(1680.6,1435.9) scale(0.9184,1)" fill="#000080" font-size="14.1">R17</text>
<text transform="translate(1680.6,1500) scale(0.9184,1)" fill="#000080" font-size="14.1">2K</text>
<text transform="translate(1681,1517.6) scale(0.9184,1)" fill="#000000" font-size="14.1">R0402</text>
<text transform="translate(1867,1435.3) scale(0.9184,1)" fill="#000080" font-size="14.1">C14</text>
<text transform="translate(1867.8,1499.5) scale(0.9184,1)" fill="#000080" font-size="14.1">10uF</text>
<text transform="translate(1867.8,1517.2) scale(0.9184,1)" fill="#000000" font-size="14.1">C0603</text>
<polyline points="1617.5,1461.2 1617.5,1476.9" stroke="#800040" stroke-width="1.4" fill="none"/>
<line x1="1617.5" y1="1476.9" x2="1617.5" y2="1492.5" stroke="#ff0000" stroke-width="1.4"/>
<line x1="1617.5" y1="1492.5" x2="1617.5" y2="1508" stroke="#0000ff" stroke-width="1.4"/>
<polygon points="1601.9,1508 1633.8,1508 1617.5,1523.9" fill="#0000ff" stroke="#0000ff" stroke-width="0.6"/>
<line x1="1601.9" y1="1523.9" x2="1633.8" y2="1523.9" stroke="#0000ff" stroke-width="1.5"/>
<line x1="1617.5" y1="1523.9" x2="1617.5" y2="1554.7" stroke="#0000ff" stroke-width="1.4"/>
<line x1="1617.5" y1="1554.7" x2="1617.5" y2="1570.7" stroke="#ff0000" stroke-width="1.4"/>
<line x1="1617.5" y1="1570.7" x2="1617.5" y2="1585.7" stroke="#800040" stroke-width="1.4"/>
<polyline points="1617.5,1585.7 1680.2,1585.7" stroke="#800040" stroke-width="1.4" fill="none"/>
<line x1="1680.2" y1="1585.7" x2="1726.3" y2="1585.7" stroke="#ff0000" stroke-width="1.4"/>
<line x1="1614.4" y1="1526.9" x2="1605" y2="1536" stroke="#0000ff" stroke-width="1.4"/>
<polygon points="1601.9,1532.7 1601.9,1539.4 1608.9,1539.4" fill="#0000ff" stroke="#0000ff" stroke-width="0.6"/>
<line x1="1614.4" y1="1539.4" x2="1605" y2="1548.5" stroke="#0000ff" stroke-width="1.4"/>
<polygon points="1601.9,1545.2 1601.9,1551.9 1608.9,1551.9" fill="#0000ff" stroke="#0000ff" stroke-width="0.6"/>
<text transform="translate(1642.7,1505.6) scale(0.9184,1)" fill="#000080" font-size="14.1">LED_G</text>
<text transform="translate(1642.7,1523.5) scale(0.9184,1)" fill="#000000" font-size="14.1">LED_G</text>
<text transform="translate(1642.7,1542.6) scale(0.9184,1)" fill="#000000" font-size="14.1">LED0603</text>
<rect x="1726.3" y="1538.9" width="124.5" height="109.1" stroke="#0000ff" stroke-width="1.5" fill="none"/>
<line x1="1850.8" y1="1570.3" x2="1897.9" y2="1570.3" stroke="#ff0000" stroke-width="1.4"/>
<line x1="1897.9" y1="1570.3" x2="2333.8" y2="1570.3" stroke="#800040" stroke-width="1.4"/>
<line x1="2333.8" y1="1570.3" x2="2379.4" y2="1570.3" stroke="#ff0000" stroke-width="1.4"/>
<line x1="1850.8" y1="1601.7" x2="1897.9" y2="1601.7" stroke="#ff0000" stroke-width="1.4"/>
<line x1="1897.9" y1="1601.7" x2="1928.5" y2="1601.7" stroke="#800040" stroke-width="1.4"/>
<line x1="1928.5" y1="1601.7" x2="1928.5" y2="1663.2" stroke="#800040" stroke-width="1.4"/>
<line x1="1928.5" y1="1663.2" x2="1928.5" y2="1678.9" stroke="#ff0000" stroke-width="1.4"/>
<polyline points="1928.5,1678.9 1933.3,1683.58 1923.7,1692.94 1933.3,1702.3 1923.7,1711.66 1933.3,1721.02 1928.5,1725.7" stroke="#0000ff" stroke-width="1.4" fill="none"/>
<line x1="1928.5" y1="1725.7" x2="1928.5" y2="1741.8" stroke="#ff0000" stroke-width="1.4"/>
<line x1="1928.5" y1="1741.8" x2="1928.5" y2="1772.3" stroke="#800040" stroke-width="1.4"/>
<line x1="1912.5" y1="1772.3" x2="1944.5" y2="1772.3" stroke="#ff0000" stroke-width="1.4"/>
<line x1="1917.3" y1="1777.05" x2="1939.7" y2="1777.05" stroke="#ff0000" stroke-width="1.4"/>
<line x1="1921.8" y1="1781.8" x2="1935.2" y2="1781.8" stroke="#ff0000" stroke-width="1.4"/>
<line x1="1925.8" y1="1786.55" x2="1931.2" y2="1786.55" stroke="#ff0000" stroke-width="1.4"/>
<line x1="1788.8" y1="1648" x2="1788.8" y2="1693.7" stroke="#ff0000" stroke-width="1.4"/>
<line x1="1788.8" y1="1693.7" x2="1788.8" y2="1772.3" stroke="#800040" stroke-width="1.4"/>
<line x1="1772.8" y1="1772.3" x2="1804.8" y2="1772.3" stroke="#ff0000" stroke-width="1.4"/>
<line x1="1777.6" y1="1777.05" x2="1800" y2="1777.05" stroke="#ff0000" stroke-width="1.4"/>
<line x1="1782.1" y1="1781.8" x2="1795.5" y2="1781.8" stroke="#ff0000" stroke-width="1.4"/>
<line x1="1786.1" y1="1786.55" x2="1791.5" y2="1786.55" stroke="#ff0000" stroke-width="1.4"/>
<text transform="translate(1737.9,1530.5) scale(0.9184,1)" fill="#000080" font-size="14.1">U11</text>
<text transform="translate(1739.4,1667.8) scale(0.9184,1)" fill="#000080" font-size="14.1">TP4054</text>
<text transform="translate(1785.1,1527.8) rotate(-90) scale(0.9184,1)" fill="#000000" font-size="14.1">4</text>
<text transform="translate(1785.7,1667.4) rotate(-90) scale(0.9184,1)" fill="#000000" font-size="14.1">2</text>
<text transform="translate(1734.6,1592.5) scale(0.9858,1)" fill="#004080" font-size="14.1">CHRG</text>
<text transform="translate(1714.3,1582.3) scale(0.9184,1)" fill="#000000" font-size="14.1" text-anchor="end">1</text>
<text transform="translate(1842.4,1576.8) scale(0.9858,1)" fill="#004080" font-size="14.1" text-anchor="end">BAT</text>
<text transform="translate(1862.8,1566.6) scale(0.9184,1)" fill="#000000" font-size="14.1">3</text>
<text transform="translate(1843,1607.8) scale(0.9858,1)" fill="#004080" font-size="14.1" text-anchor="end">PROG</text>
<text transform="translate(1862.8,1598) scale(0.9184,1)" fill="#000000" font-size="14.1">5</text>
<text transform="translate(1795.8,1576.4) rotate(-90) scale(0.9858,1)" fill="#004080" font-size="14.1">VCC</text>
<text transform="translate(1795.8,1639.7) rotate(-90) scale(0.9858,1)" fill="#004080" font-size="14.1">GND</text>
<text transform="translate(1953.5,1691.9) scale(0.9184,1)" fill="#000080" font-size="14.1">R23</text>
<text transform="translate(1953.5,1710.4) scale(0.9184,1)" fill="#000080" font-size="14.1">2K</text>
<text transform="translate(1953.5,1729.8) scale(0.9184,1)" fill="#000000" font-size="14.1">R0402</text>
<circle cx="2037.3" cy="1543.9" r="4.6" stroke="#ff0000" stroke-width="1.4" fill="none"/>
<text transform="translate(2022.3,1533.8) scale(0.9184,1)" fill="#000000" font-size="14.1">VBAT</text>
<line x1="2037.3" y1="1548.5" x2="2037.3" y2="1555" stroke="#ff0000" stroke-width="1.4"/>
<line x1="2037.3" y1="1555" x2="2037.3" y2="1570.3" stroke="#800040" stroke-width="1.4"/>
<line x1="2037.3" y1="1570.3" x2="2037.3" y2="1647.5" stroke="#800040" stroke-width="1.4"/>
<line x1="2037.3" y1="1647.5" x2="2037.3" y2="1664.15" stroke="#ff0000" stroke-width="1.4"/>
<line x1="2037.3" y1="1664.15" x2="2037.3" y2="1668.15" stroke="#0000ff" stroke-width="1.4"/>
<line x1="2037.3" y1="1676.15" x2="2037.3" y2="1680.65" stroke="#0000ff" stroke-width="1.4"/>
<line x1="2037.3" y1="1680.65" x2="2037.3" y2="1694.6" stroke="#ff0000" stroke-width="1.4"/>
<line x1="2037.3" y1="1694.6" x2="2037.3" y2="1772.3" stroke="#800040" stroke-width="1.4"/>
<line x1="2022.9" y1="1668.15" x2="2051.7" y2="1668.15" stroke="#0000ff" stroke-width="1.5"/>
<line x1="2022.9" y1="1676.15" x2="2051.7" y2="1676.15" stroke="#0000ff" stroke-width="1.5"/>
<line x1="2021.3" y1="1772.3" x2="2053.3" y2="1772.3" stroke="#ff0000" stroke-width="1.4"/>
<line x1="2026.1" y1="1777.05" x2="2048.5" y2="1777.05" stroke="#ff0000" stroke-width="1.4"/>
<line x1="2030.6" y1="1781.8" x2="2044" y2="1781.8" stroke="#ff0000" stroke-width="1.4"/>
<line x1="2034.6" y1="1786.55" x2="2040" y2="1786.55" stroke="#ff0000" stroke-width="1.4"/>
<text transform="translate(2062.6,1676.7) scale(0.9184,1)" fill="#000080" font-size="14.1">C13</text>
<text transform="translate(2062.6,1694.3) scale(0.9184,1)" fill="#000080" font-size="14.1">10uF</text>
<text transform="translate(2062.6,1713.1) scale(0.9184,1)" fill="#000000" font-size="14.1">C0603</text>
<line x1="2239.3" y1="1570.3" x2="2239.3" y2="1586" stroke="#ff0000" stroke-width="1.4"/>
<polyline points="2239.3,1586 2244.1,1590.7 2234.5,1600.1 2244.1,1609.5 2234.5,1618.9 2244.1,1628.3 2239.3,1633" stroke="#0000ff" stroke-width="1.4" fill="none"/>
<line x1="2239.3" y1="1633" x2="2239.3" y2="1648.6" stroke="#ff0000" stroke-width="1.4"/>
<line x1="2239.3" y1="1648.6" x2="2239.3" y2="1679" stroke="#800040" stroke-width="1.4"/>
<line x1="2239.3" y1="1679" x2="2239.3" y2="1695.3" stroke="#800040" stroke-width="1.4"/>
<line x1="2239.3" y1="1695.3" x2="2239.3" y2="1711" stroke="#ff0000" stroke-width="1.4"/>
<polyline points="2239.3,1711 2244.1,1715.7 2234.5,1725.1 2244.1,1734.5 2234.5,1743.9 2244.1,1753.3 2239.3,1758" stroke="#0000ff" stroke-width="1.4" fill="none"/>
<line x1="2239.3" y1="1758" x2="2239.3" y2="1773.6" stroke="#ff0000" stroke-width="1.4"/>
<line x1="2239.3" y1="1773.6" x2="2239.3" y2="1803.8" stroke="#800040" stroke-width="1.4"/>
<line x1="2223.3" y1="1803.8" x2="2255.3" y2="1803.8" stroke="#ff0000" stroke-width="1.4"/>
<line x1="2228.1" y1="1808.55" x2="2250.5" y2="1808.55" stroke="#ff0000" stroke-width="1.4"/>
<line x1="2232.6" y1="1813.3" x2="2246" y2="1813.3" stroke="#ff0000" stroke-width="1.4"/>
<line x1="2236.6" y1="1818.05" x2="2242" y2="1818.05" stroke="#ff0000" stroke-width="1.4"/>
<line x1="2239.3" y1="1679" x2="2379.9" y2="1679" stroke="#800040" stroke-width="1.4"/>
<text transform="translate(2379.6,1676.8) scale(0.9184,1)" fill="#ff0000" font-size="14.1" text-anchor="end">IO35</text>
<text transform="translate(2264.6,1599) scale(0.9184,1)" fill="#000080" font-size="14.1">R42</text>
<text transform="translate(2264.6,1618) scale(0.9184,1)" fill="#000080" font-size="14.1">100K</text>
<text transform="translate(2264.6,1635.6) scale(0.9184,1)" fill="#000000" font-size="14.1">R0402</text>
<text transform="translate(2264.6,1723.8) scale(0.9184,1)" fill="#000080" font-size="14.1">R43</text>
<text transform="translate(2264.6,1742.8) scale(0.9184,1)" fill="#000080" font-size="14.1">100K</text>
<text transform="translate(2264.6,1760.4) scale(0.9184,1)" fill="#000000" font-size="14.1">R0402</text>
<rect x="2379.4" y="1508" width="78.4" height="77.4" stroke="#0000ff" stroke-width="1.5" fill="none"/>
<line x1="2317" y1="1523.8" x2="2333.8" y2="1523.8" stroke="#800040" stroke-width="1.4"/>
<line x1="2333.8" y1="1523.8" x2="2379.4" y2="1523.8" stroke="#ff0000" stroke-width="1.4"/>
<polyline points="2317,1523.8 2317,1415" stroke="#800040" stroke-width="1.4" fill="none"/>
<line x1="2301" y1="1415" x2="2333" y2="1415" stroke="#ff0000" stroke-width="1.4"/>
<line x1="2305.8" y1="1410.25" x2="2328.2" y2="1410.25" stroke="#ff0000" stroke-width="1.4"/>
<line x1="2310.3" y1="1405.5" x2="2323.7" y2="1405.5" stroke="#ff0000" stroke-width="1.4"/>
<line x1="2314.3" y1="1400.75" x2="2319.7" y2="1400.75" stroke="#ff0000" stroke-width="1.4"/>
<polyline points="2317,1445.6 2441.8,1445.6 2441.8,1461.4" stroke="#800040" stroke-width="1.4" fill="none"/>
<line x1="2441.8" y1="1461.4" x2="2441.8" y2="1508" stroke="#ff0000" stroke-width="1.4"/>
<line x1="2317" y1="1461.4" x2="2426.6" y2="1461.4" stroke="#800040" stroke-width="1.4"/>
<line x1="2426.6" y1="1461.4" x2="2426.6" y2="1508" stroke="#ff0000" stroke-width="1.4"/>
<text transform="translate(2390.2,1499.1) scale(0.9184,1)" fill="#000080" font-size="14.1">P2</text>
<text transform="translate(2422,1496.4) rotate(-90) scale(0.9184,1)" fill="#000000" font-size="14.1">3</text>
<text transform="translate(2437.4,1496.4) rotate(-90) scale(0.9184,1)" fill="#000000" font-size="14.1">4</text>
<text transform="translate(2367.7,1520.8) scale(0.9184,1)" fill="#000000" font-size="14.1" text-anchor="end">1</text>
<text transform="translate(2367.7,1566.9) scale(0.9184,1)" fill="#000000" font-size="14.1" text-anchor="end">2</text>
<text transform="translate(2387.5,1530.6) scale(0.9858,1)" fill="#004080" font-size="14.1">GND</text>
<text transform="translate(2387.5,1576.7) scale(0.9858,1)" fill="#004080" font-size="14.1">VCC</text>
<text transform="translate(2432.8,1546) rotate(-90) scale(0.9858,1)" fill="#004080" font-size="14.1">GND</text>
<text transform="translate(2447.7,1546) rotate(-90) scale(0.9858,1)" fill="#004080" font-size="14.1">GND</text>
<text transform="translate(2392.7,1604.9) scale(0.9184,1)" fill="#000080" font-size="14.1">PH-2-WO</text>
<circle cx="513.4" cy="668.2" r="3.6" fill="#ff00ff"/>
<circle cx="513.4" cy="683.8" r="3.6" fill="#ff00ff"/>
<circle cx="513.4" cy="699.4" r="3.6" fill="#ff00ff"/>
<circle cx="513.4" cy="715" r="3.6" fill="#ff00ff"/>
<circle cx="513.4" cy="730.6" r="3.6" fill="#ff00ff"/>
<circle cx="730.9" cy="637.3" r="3.6" fill="#ff00ff"/>
<circle cx="824.4" cy="637.3" r="3.6" fill="#ff00ff"/>
<circle cx="824.4" cy="668.4" r="3.6" fill="#ff00ff"/>
<circle cx="653.1" cy="714.9" r="3.6" fill="#ff00ff"/>
<circle cx="2068.4" cy="419.4" r="3.6" fill="#ff00ff"/>
<circle cx="2146" cy="419.4" r="3.6" fill="#ff00ff"/>
<circle cx="2581.4" cy="419.4" r="3.6" fill="#ff00ff"/>
<circle cx="2068.4" cy="823.9" r="3.6" fill="#ff00ff"/>
<circle cx="2146" cy="823.9" r="3.6" fill="#ff00ff"/>
<circle cx="2581.4" cy="823.9" r="3.6" fill="#ff00ff"/>
<circle cx="201.9" cy="948.4" r="3.6" fill="#ff00ff"/>
<circle cx="264.2" cy="948.4" r="3.6" fill="#ff00ff"/>
<circle cx="467" cy="948.4" r="3.6" fill="#ff00ff"/>
<circle cx="233.1" cy="1010.7" r="3.6" fill="#ff00ff"/>
<circle cx="264.2" cy="1010.7" r="3.6" fill="#ff00ff"/>
<circle cx="467" cy="1010.7" r="3.6" fill="#ff00ff"/>
<circle cx="202.1" cy="1150.1" r="3.6" fill="#ff00ff"/>
<circle cx="1166.5" cy="1710.3" r="3.6" fill="#ff00ff"/>
<circle cx="1788.4" cy="1461.2" r="3.6" fill="#ff00ff"/>
<circle cx="2037.3" cy="1570.3" r="3.6" fill="#ff00ff"/>
<circle cx="2239.3" cy="1570.3" r="3.6" fill="#ff00ff"/>
<circle cx="2239.3" cy="1679" r="3.6" fill="#ff00ff"/>
<circle cx="2317" cy="1445.6" r="3.6" fill="#ff00ff"/>
<circle cx="2317" cy="1461.4" r="3.6" fill="#ff00ff"/>
</svg>
</body></html>
